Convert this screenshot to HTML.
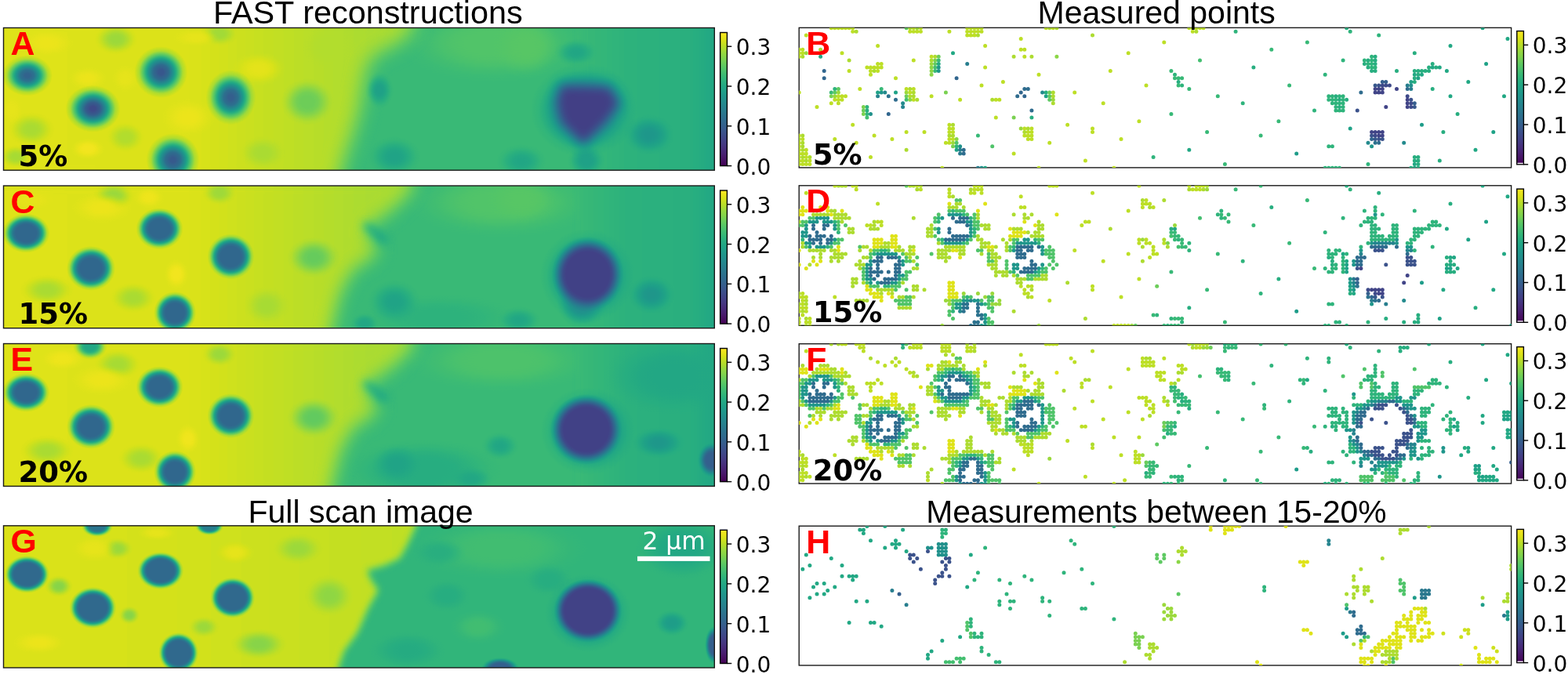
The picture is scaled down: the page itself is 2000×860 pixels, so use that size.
<!DOCTYPE html><html><head><meta charset="utf-8"><title>FAST reconstructions</title><style>html,body{margin:0;padding:0;background:#fff;width:2000px;height:860px;overflow:hidden}
svg{display:block}
.tk{font-family:"DejaVu Sans",sans-serif;font-size:28px;fill:#000}
.lt{font-family:"Liberation Sans",Arial,sans-serif;font-weight:bold;font-size:42.8px;fill:#f00}
.pc{font-family:"DejaVu Sans",sans-serif;font-weight:bold;font-size:37px;fill:#000}
.ti{font-family:"Liberation Sans",Arial,sans-serif;font-size:41px;fill:#000}
.sb{font-family:"DejaVu Sans",sans-serif;font-size:31.3px;fill:#fff}</style></head><body><svg width="2000" height="860" viewBox="0 0 2000 860"><defs><linearGradient id="cbg" x1="0" y1="0" x2="0" y2="1"><stop offset="0.000" stop-color="#fde725"/><stop offset="0.031" stop-color="#eae51a"/><stop offset="0.062" stop-color="#d8e219"/><stop offset="0.094" stop-color="#c0df25"/><stop offset="0.125" stop-color="#addc30"/><stop offset="0.156" stop-color="#95d840"/><stop offset="0.188" stop-color="#84d44b"/><stop offset="0.219" stop-color="#70cf57"/><stop offset="0.250" stop-color="#5ec962"/><stop offset="0.281" stop-color="#4ec36b"/><stop offset="0.312" stop-color="#3fbc73"/><stop offset="0.344" stop-color="#32b67a"/><stop offset="0.375" stop-color="#28ae80"/><stop offset="0.406" stop-color="#22a785"/><stop offset="0.438" stop-color="#1fa088"/><stop offset="0.469" stop-color="#1f988b"/><stop offset="0.500" stop-color="#21918c"/><stop offset="0.531" stop-color="#23898e"/><stop offset="0.562" stop-color="#26828e"/><stop offset="0.594" stop-color="#297a8e"/><stop offset="0.625" stop-color="#2c728e"/><stop offset="0.656" stop-color="#2f6b8e"/><stop offset="0.688" stop-color="#33638d"/><stop offset="0.719" stop-color="#375b8d"/><stop offset="0.750" stop-color="#3b528b"/><stop offset="0.781" stop-color="#3e4989"/><stop offset="0.812" stop-color="#424086"/><stop offset="0.844" stop-color="#453781"/><stop offset="0.875" stop-color="#472d7b"/><stop offset="0.906" stop-color="#482374"/><stop offset="0.938" stop-color="#48186a"/><stop offset="0.969" stop-color="#470d60"/><stop offset="1.000" stop-color="#440154"/></linearGradient><filter id="vir" x="0" y="0" width="1" height="1" color-interpolation-filters="sRGB"><feComponentTransfer><feFuncR type="table" tableValues="0.2670 0.2770 0.2823 0.2829 0.2788 0.2706 0.2590 0.2450 0.2297 0.2143 0.1994 0.1856 0.1727 0.1607 0.1490 0.1378 0.1276 0.1206 0.1206 0.1323 0.1579 0.1966 0.2461 0.3041 0.3692 0.4401 0.5160 0.5958 0.6785 0.7624 0.8456 0.9261 0.9932"/><feFuncG type="table" tableValues="0.0049 0.0503 0.0950 0.1359 0.1755 0.2141 0.2515 0.2877 0.3224 0.3556 0.3876 0.4186 0.4488 0.4785 0.5081 0.5375 0.5669 0.5964 0.6258 0.6550 0.6838 0.7118 0.7389 0.7647 0.7889 0.8111 0.8312 0.8487 0.8637 0.8764 0.8873 0.8973 0.9062"/><feFuncB type="table" tableValues="0.3294 0.3757 0.4173 0.4534 0.4834 0.5071 0.5247 0.5373 0.5457 0.5512 0.5546 0.5568 0.5579 0.5581 0.5573 0.5549 0.5506 0.5436 0.5335 0.5197 0.5017 0.4792 0.4520 0.4199 0.3829 0.3410 0.2943 0.2433 0.1895 0.1371 0.0997 0.1041 0.1439"/></feComponentTransfer></filter><clipPath id="cpA"><rect x="4.50" y="35.50" width="906.80" height="181.70"/></clipPath><radialGradient id="g1"><stop offset="0.300" stop-color="#b9b9b9" stop-opacity="1.000"/><stop offset="0.440" stop-color="#b9b9b9" stop-opacity="0.896"/><stop offset="0.580" stop-color="#b9b9b9" stop-opacity="0.648"/><stop offset="0.720" stop-color="#b9b9b9" stop-opacity="0.352"/><stop offset="0.860" stop-color="#b9b9b9" stop-opacity="0.104"/><stop offset="1.000" stop-color="#b9b9b9" stop-opacity="0.000"/></radialGradient><linearGradient id="lg2" gradientUnits="userSpaceOnUse" x1="740.0" y1="0" x2="915.0" y2="0"><stop offset="0.0000" stop-color="#acacac"/><stop offset="0.3429" stop-color="#a4a4a4"/><stop offset="0.8000" stop-color="#a1a1a1"/><stop offset="1.0000" stop-color="#969696"/></linearGradient><linearGradient id="lg3" gradientUnits="userSpaceOnUse" x1="0.0" y1="0" x2="470.0" y2="0"><stop offset="0.0000" stop-color="#f2f2f2"/><stop offset="0.5106" stop-color="#f1f1f1"/><stop offset="0.7021" stop-color="#e9e9e9"/><stop offset="1.0000" stop-color="#dedede"/></linearGradient><radialGradient id="g4"><stop offset="0.200" stop-color="#bcbcbc" stop-opacity="1.000"/><stop offset="0.360" stop-color="#bcbcbc" stop-opacity="0.896"/><stop offset="0.520" stop-color="#bcbcbc" stop-opacity="0.648"/><stop offset="0.680" stop-color="#bcbcbc" stop-opacity="0.352"/><stop offset="0.840" stop-color="#bcbcbc" stop-opacity="0.104"/><stop offset="1.000" stop-color="#bcbcbc" stop-opacity="0.000"/></radialGradient><radialGradient id="g5"><stop offset="0.250" stop-color="#c6c6c6" stop-opacity="1.000"/><stop offset="0.400" stop-color="#c6c6c6" stop-opacity="0.896"/><stop offset="0.550" stop-color="#c6c6c6" stop-opacity="0.648"/><stop offset="0.700" stop-color="#c6c6c6" stop-opacity="0.352"/><stop offset="0.850" stop-color="#c6c6c6" stop-opacity="0.104"/><stop offset="1.000" stop-color="#c6c6c6" stop-opacity="0.000"/></radialGradient><radialGradient id="g6"><stop offset="0.200" stop-color="#d9d9d9" stop-opacity="1.000"/><stop offset="0.360" stop-color="#d9d9d9" stop-opacity="0.896"/><stop offset="0.520" stop-color="#d9d9d9" stop-opacity="0.648"/><stop offset="0.680" stop-color="#d9d9d9" stop-opacity="0.352"/><stop offset="0.840" stop-color="#d9d9d9" stop-opacity="0.104"/><stop offset="1.000" stop-color="#d9d9d9" stop-opacity="0.000"/></radialGradient><radialGradient id="g7"><stop offset="0.200" stop-color="#dbdbdb" stop-opacity="1.000"/><stop offset="0.360" stop-color="#dbdbdb" stop-opacity="0.896"/><stop offset="0.520" stop-color="#dbdbdb" stop-opacity="0.648"/><stop offset="0.680" stop-color="#dbdbdb" stop-opacity="0.352"/><stop offset="0.840" stop-color="#dbdbdb" stop-opacity="0.104"/><stop offset="1.000" stop-color="#dbdbdb" stop-opacity="0.000"/></radialGradient><radialGradient id="g8"><stop offset="0.200" stop-color="#dedede" stop-opacity="1.000"/><stop offset="0.360" stop-color="#dedede" stop-opacity="0.896"/><stop offset="0.520" stop-color="#dedede" stop-opacity="0.648"/><stop offset="0.680" stop-color="#dedede" stop-opacity="0.352"/><stop offset="0.840" stop-color="#dedede" stop-opacity="0.104"/><stop offset="1.000" stop-color="#dedede" stop-opacity="0.000"/></radialGradient><radialGradient id="g9"><stop offset="0.200" stop-color="#dedede" stop-opacity="1.000"/><stop offset="0.360" stop-color="#dedede" stop-opacity="0.896"/><stop offset="0.520" stop-color="#dedede" stop-opacity="0.648"/><stop offset="0.680" stop-color="#dedede" stop-opacity="0.352"/><stop offset="0.840" stop-color="#dedede" stop-opacity="0.104"/><stop offset="1.000" stop-color="#dedede" stop-opacity="0.000"/></radialGradient><radialGradient id="g10"><stop offset="0.200" stop-color="#e1e1e1" stop-opacity="1.000"/><stop offset="0.360" stop-color="#e1e1e1" stop-opacity="0.896"/><stop offset="0.520" stop-color="#e1e1e1" stop-opacity="0.648"/><stop offset="0.680" stop-color="#e1e1e1" stop-opacity="0.352"/><stop offset="0.840" stop-color="#e1e1e1" stop-opacity="0.104"/><stop offset="1.000" stop-color="#e1e1e1" stop-opacity="0.000"/></radialGradient><radialGradient id="g11"><stop offset="0.200" stop-color="#e1e1e1" stop-opacity="1.000"/><stop offset="0.360" stop-color="#e1e1e1" stop-opacity="0.896"/><stop offset="0.520" stop-color="#e1e1e1" stop-opacity="0.648"/><stop offset="0.680" stop-color="#e1e1e1" stop-opacity="0.352"/><stop offset="0.840" stop-color="#e1e1e1" stop-opacity="0.104"/><stop offset="1.000" stop-color="#e1e1e1" stop-opacity="0.000"/></radialGradient><radialGradient id="g12"><stop offset="0.200" stop-color="#dddddd" stop-opacity="1.000"/><stop offset="0.360" stop-color="#dddddd" stop-opacity="0.896"/><stop offset="0.520" stop-color="#dddddd" stop-opacity="0.648"/><stop offset="0.680" stop-color="#dddddd" stop-opacity="0.352"/><stop offset="0.840" stop-color="#dddddd" stop-opacity="0.104"/><stop offset="1.000" stop-color="#dddddd" stop-opacity="0.000"/></radialGradient><radialGradient id="g13"><stop offset="0.200" stop-color="#f7f7f7" stop-opacity="1.000"/><stop offset="0.360" stop-color="#f7f7f7" stop-opacity="0.896"/><stop offset="0.520" stop-color="#f7f7f7" stop-opacity="0.648"/><stop offset="0.680" stop-color="#f7f7f7" stop-opacity="0.352"/><stop offset="0.840" stop-color="#f7f7f7" stop-opacity="0.104"/><stop offset="1.000" stop-color="#f7f7f7" stop-opacity="0.000"/></radialGradient><radialGradient id="g14"><stop offset="0.200" stop-color="#f7f7f7" stop-opacity="1.000"/><stop offset="0.360" stop-color="#f7f7f7" stop-opacity="0.896"/><stop offset="0.520" stop-color="#f7f7f7" stop-opacity="0.648"/><stop offset="0.680" stop-color="#f7f7f7" stop-opacity="0.352"/><stop offset="0.840" stop-color="#f7f7f7" stop-opacity="0.104"/><stop offset="1.000" stop-color="#f7f7f7" stop-opacity="0.000"/></radialGradient><radialGradient id="g15"><stop offset="0.200" stop-color="#f5f5f5" stop-opacity="1.000"/><stop offset="0.360" stop-color="#f5f5f5" stop-opacity="0.896"/><stop offset="0.520" stop-color="#f5f5f5" stop-opacity="0.648"/><stop offset="0.680" stop-color="#f5f5f5" stop-opacity="0.352"/><stop offset="0.840" stop-color="#f5f5f5" stop-opacity="0.104"/><stop offset="1.000" stop-color="#f5f5f5" stop-opacity="0.000"/></radialGradient><radialGradient id="g16"><stop offset="0.200" stop-color="#f7f7f7" stop-opacity="1.000"/><stop offset="0.360" stop-color="#f7f7f7" stop-opacity="0.896"/><stop offset="0.520" stop-color="#f7f7f7" stop-opacity="0.648"/><stop offset="0.680" stop-color="#f7f7f7" stop-opacity="0.352"/><stop offset="0.840" stop-color="#f7f7f7" stop-opacity="0.104"/><stop offset="1.000" stop-color="#f7f7f7" stop-opacity="0.000"/></radialGradient><radialGradient id="g17"><stop offset="0.200" stop-color="#f4f4f4" stop-opacity="1.000"/><stop offset="0.360" stop-color="#f4f4f4" stop-opacity="0.896"/><stop offset="0.520" stop-color="#f4f4f4" stop-opacity="0.648"/><stop offset="0.680" stop-color="#f4f4f4" stop-opacity="0.352"/><stop offset="0.840" stop-color="#f4f4f4" stop-opacity="0.104"/><stop offset="1.000" stop-color="#f4f4f4" stop-opacity="0.000"/></radialGradient><radialGradient id="g18"><stop offset="0.200" stop-color="#fafafa" stop-opacity="1.000"/><stop offset="0.360" stop-color="#fafafa" stop-opacity="0.896"/><stop offset="0.520" stop-color="#fafafa" stop-opacity="0.648"/><stop offset="0.680" stop-color="#fafafa" stop-opacity="0.352"/><stop offset="0.840" stop-color="#fafafa" stop-opacity="0.104"/><stop offset="1.000" stop-color="#fafafa" stop-opacity="0.000"/></radialGradient><radialGradient id="g19"><stop offset="0.200" stop-color="#f5f5f5" stop-opacity="1.000"/><stop offset="0.360" stop-color="#f5f5f5" stop-opacity="0.896"/><stop offset="0.520" stop-color="#f5f5f5" stop-opacity="0.648"/><stop offset="0.680" stop-color="#f5f5f5" stop-opacity="0.352"/><stop offset="0.840" stop-color="#f5f5f5" stop-opacity="0.104"/><stop offset="1.000" stop-color="#f5f5f5" stop-opacity="0.000"/></radialGradient><radialGradient id="g20"><stop offset="0.200" stop-color="#f5f5f5" stop-opacity="1.000"/><stop offset="0.360" stop-color="#f5f5f5" stop-opacity="0.896"/><stop offset="0.520" stop-color="#f5f5f5" stop-opacity="0.648"/><stop offset="0.680" stop-color="#f5f5f5" stop-opacity="0.352"/><stop offset="0.840" stop-color="#f5f5f5" stop-opacity="0.104"/><stop offset="1.000" stop-color="#f5f5f5" stop-opacity="0.000"/></radialGradient><radialGradient id="g21"><stop offset="0.150" stop-color="#878787" stop-opacity="1.000"/><stop offset="0.320" stop-color="#878787" stop-opacity="0.896"/><stop offset="0.490" stop-color="#878787" stop-opacity="0.648"/><stop offset="0.660" stop-color="#878787" stop-opacity="0.352"/><stop offset="0.830" stop-color="#878787" stop-opacity="0.104"/><stop offset="1.000" stop-color="#878787" stop-opacity="0.000"/></radialGradient><radialGradient id="g22"><stop offset="0.150" stop-color="#919191" stop-opacity="1.000"/><stop offset="0.320" stop-color="#919191" stop-opacity="0.896"/><stop offset="0.490" stop-color="#919191" stop-opacity="0.648"/><stop offset="0.660" stop-color="#919191" stop-opacity="0.352"/><stop offset="0.830" stop-color="#919191" stop-opacity="0.104"/><stop offset="1.000" stop-color="#919191" stop-opacity="0.000"/></radialGradient><radialGradient id="g23"><stop offset="0.150" stop-color="#979797" stop-opacity="1.000"/><stop offset="0.320" stop-color="#979797" stop-opacity="0.896"/><stop offset="0.490" stop-color="#979797" stop-opacity="0.648"/><stop offset="0.660" stop-color="#979797" stop-opacity="0.352"/><stop offset="0.830" stop-color="#979797" stop-opacity="0.104"/><stop offset="1.000" stop-color="#979797" stop-opacity="0.000"/></radialGradient><radialGradient id="g24"><stop offset="0.150" stop-color="#949494" stop-opacity="1.000"/><stop offset="0.320" stop-color="#949494" stop-opacity="0.896"/><stop offset="0.490" stop-color="#949494" stop-opacity="0.648"/><stop offset="0.660" stop-color="#949494" stop-opacity="0.352"/><stop offset="0.830" stop-color="#949494" stop-opacity="0.104"/><stop offset="1.000" stop-color="#949494" stop-opacity="0.000"/></radialGradient><radialGradient id="g25"><stop offset="0.150" stop-color="#979797" stop-opacity="1.000"/><stop offset="0.320" stop-color="#979797" stop-opacity="0.896"/><stop offset="0.490" stop-color="#979797" stop-opacity="0.648"/><stop offset="0.660" stop-color="#979797" stop-opacity="0.352"/><stop offset="0.830" stop-color="#979797" stop-opacity="0.104"/><stop offset="1.000" stop-color="#979797" stop-opacity="0.000"/></radialGradient><radialGradient id="g26"><stop offset="0.200" stop-color="#919191" stop-opacity="1.000"/><stop offset="0.360" stop-color="#919191" stop-opacity="0.896"/><stop offset="0.520" stop-color="#919191" stop-opacity="0.648"/><stop offset="0.680" stop-color="#919191" stop-opacity="0.352"/><stop offset="0.840" stop-color="#919191" stop-opacity="0.104"/><stop offset="1.000" stop-color="#919191" stop-opacity="0.000"/></radialGradient><radialGradient id="g27"><stop offset="0.100" stop-color="#505050" stop-opacity="1.000"/><stop offset="0.280" stop-color="#505050" stop-opacity="0.896"/><stop offset="0.460" stop-color="#505050" stop-opacity="0.648"/><stop offset="0.640" stop-color="#505050" stop-opacity="0.352"/><stop offset="0.820" stop-color="#505050" stop-opacity="0.104"/><stop offset="1.000" stop-color="#505050" stop-opacity="0.000"/></radialGradient><radialGradient id="g28"><stop offset="0.100" stop-color="#393939" stop-opacity="1.000"/><stop offset="0.280" stop-color="#393939" stop-opacity="0.896"/><stop offset="0.460" stop-color="#393939" stop-opacity="0.648"/><stop offset="0.640" stop-color="#393939" stop-opacity="0.352"/><stop offset="0.820" stop-color="#393939" stop-opacity="0.104"/><stop offset="1.000" stop-color="#393939" stop-opacity="0.000"/></radialGradient><radialGradient id="g29"><stop offset="0.100" stop-color="#454545" stop-opacity="1.000"/><stop offset="0.280" stop-color="#454545" stop-opacity="0.896"/><stop offset="0.460" stop-color="#454545" stop-opacity="0.648"/><stop offset="0.640" stop-color="#454545" stop-opacity="0.352"/><stop offset="0.820" stop-color="#454545" stop-opacity="0.104"/><stop offset="1.000" stop-color="#454545" stop-opacity="0.000"/></radialGradient><radialGradient id="g30"><stop offset="0.100" stop-color="#4c4c4c" stop-opacity="1.000"/><stop offset="0.280" stop-color="#4c4c4c" stop-opacity="0.896"/><stop offset="0.460" stop-color="#4c4c4c" stop-opacity="0.648"/><stop offset="0.640" stop-color="#4c4c4c" stop-opacity="0.352"/><stop offset="0.820" stop-color="#4c4c4c" stop-opacity="0.104"/><stop offset="1.000" stop-color="#4c4c4c" stop-opacity="0.000"/></radialGradient><radialGradient id="g31"><stop offset="0.100" stop-color="#484848" stop-opacity="1.000"/><stop offset="0.280" stop-color="#484848" stop-opacity="0.896"/><stop offset="0.460" stop-color="#484848" stop-opacity="0.648"/><stop offset="0.640" stop-color="#484848" stop-opacity="0.352"/><stop offset="0.820" stop-color="#484848" stop-opacity="0.104"/><stop offset="1.000" stop-color="#484848" stop-opacity="0.000"/></radialGradient><radialGradient id="g32"><stop offset="0.250" stop-color="#7a7a7a" stop-opacity="1.000"/><stop offset="0.400" stop-color="#7a7a7a" stop-opacity="0.896"/><stop offset="0.550" stop-color="#7a7a7a" stop-opacity="0.648"/><stop offset="0.700" stop-color="#7a7a7a" stop-opacity="0.352"/><stop offset="0.850" stop-color="#7a7a7a" stop-opacity="0.104"/><stop offset="1.000" stop-color="#7a7a7a" stop-opacity="0.000"/></radialGradient><clipPath id="cpC"><rect x="4.50" y="237.00" width="906.80" height="181.70"/></clipPath><radialGradient id="g33"><stop offset="0.300" stop-color="#b9b9b9" stop-opacity="1.000"/><stop offset="0.440" stop-color="#b9b9b9" stop-opacity="0.896"/><stop offset="0.580" stop-color="#b9b9b9" stop-opacity="0.648"/><stop offset="0.720" stop-color="#b9b9b9" stop-opacity="0.352"/><stop offset="0.860" stop-color="#b9b9b9" stop-opacity="0.104"/><stop offset="1.000" stop-color="#b9b9b9" stop-opacity="0.000"/></radialGradient><radialGradient id="g34"><stop offset="0.300" stop-color="#a4a4a4" stop-opacity="1.000"/><stop offset="0.440" stop-color="#a4a4a4" stop-opacity="0.896"/><stop offset="0.580" stop-color="#a4a4a4" stop-opacity="0.648"/><stop offset="0.720" stop-color="#a4a4a4" stop-opacity="0.352"/><stop offset="0.860" stop-color="#a4a4a4" stop-opacity="0.104"/><stop offset="1.000" stop-color="#a4a4a4" stop-opacity="0.000"/></radialGradient><linearGradient id="lg35" gradientUnits="userSpaceOnUse" x1="740.0" y1="0" x2="915.0" y2="0"><stop offset="0.0000" stop-color="#acacac"/><stop offset="0.3429" stop-color="#a3a3a3"/><stop offset="0.8000" stop-color="#a1a1a1"/><stop offset="1.0000" stop-color="#969696"/></linearGradient><linearGradient id="lg36" gradientUnits="userSpaceOnUse" x1="0.0" y1="0" x2="470.0" y2="0"><stop offset="0.0000" stop-color="#f2f2f2"/><stop offset="0.5106" stop-color="#f1f1f1"/><stop offset="0.7021" stop-color="#e9e9e9"/><stop offset="1.0000" stop-color="#dedede"/></linearGradient><radialGradient id="g37"><stop offset="0.200" stop-color="#bcbcbc" stop-opacity="1.000"/><stop offset="0.360" stop-color="#bcbcbc" stop-opacity="0.896"/><stop offset="0.520" stop-color="#bcbcbc" stop-opacity="0.648"/><stop offset="0.680" stop-color="#bcbcbc" stop-opacity="0.352"/><stop offset="0.840" stop-color="#bcbcbc" stop-opacity="0.104"/><stop offset="1.000" stop-color="#bcbcbc" stop-opacity="0.000"/></radialGradient><radialGradient id="g38"><stop offset="0.200" stop-color="#c3c3c3" stop-opacity="1.000"/><stop offset="0.360" stop-color="#c3c3c3" stop-opacity="0.896"/><stop offset="0.520" stop-color="#c3c3c3" stop-opacity="0.648"/><stop offset="0.680" stop-color="#c3c3c3" stop-opacity="0.352"/><stop offset="0.840" stop-color="#c3c3c3" stop-opacity="0.104"/><stop offset="1.000" stop-color="#c3c3c3" stop-opacity="0.000"/></radialGradient><radialGradient id="g39"><stop offset="0.200" stop-color="#d8d8d8" stop-opacity="1.000"/><stop offset="0.360" stop-color="#d8d8d8" stop-opacity="0.896"/><stop offset="0.520" stop-color="#d8d8d8" stop-opacity="0.648"/><stop offset="0.680" stop-color="#d8d8d8" stop-opacity="0.352"/><stop offset="0.840" stop-color="#d8d8d8" stop-opacity="0.104"/><stop offset="1.000" stop-color="#d8d8d8" stop-opacity="0.000"/></radialGradient><radialGradient id="g40"><stop offset="0.200" stop-color="#dadada" stop-opacity="1.000"/><stop offset="0.360" stop-color="#dadada" stop-opacity="0.896"/><stop offset="0.520" stop-color="#dadada" stop-opacity="0.648"/><stop offset="0.680" stop-color="#dadada" stop-opacity="0.352"/><stop offset="0.840" stop-color="#dadada" stop-opacity="0.104"/><stop offset="1.000" stop-color="#dadada" stop-opacity="0.000"/></radialGradient><radialGradient id="g41"><stop offset="0.200" stop-color="#dedede" stop-opacity="1.000"/><stop offset="0.360" stop-color="#dedede" stop-opacity="0.896"/><stop offset="0.520" stop-color="#dedede" stop-opacity="0.648"/><stop offset="0.680" stop-color="#dedede" stop-opacity="0.352"/><stop offset="0.840" stop-color="#dedede" stop-opacity="0.104"/><stop offset="1.000" stop-color="#dedede" stop-opacity="0.000"/></radialGradient><radialGradient id="g42"><stop offset="0.200" stop-color="#dedede" stop-opacity="1.000"/><stop offset="0.360" stop-color="#dedede" stop-opacity="0.896"/><stop offset="0.520" stop-color="#dedede" stop-opacity="0.648"/><stop offset="0.680" stop-color="#dedede" stop-opacity="0.352"/><stop offset="0.840" stop-color="#dedede" stop-opacity="0.104"/><stop offset="1.000" stop-color="#dedede" stop-opacity="0.000"/></radialGradient><radialGradient id="g43"><stop offset="0.200" stop-color="#dddddd" stop-opacity="1.000"/><stop offset="0.360" stop-color="#dddddd" stop-opacity="0.896"/><stop offset="0.520" stop-color="#dddddd" stop-opacity="0.648"/><stop offset="0.680" stop-color="#dddddd" stop-opacity="0.352"/><stop offset="0.840" stop-color="#dddddd" stop-opacity="0.104"/><stop offset="1.000" stop-color="#dddddd" stop-opacity="0.000"/></radialGradient><radialGradient id="g44"><stop offset="0.200" stop-color="#fafafa" stop-opacity="1.000"/><stop offset="0.360" stop-color="#fafafa" stop-opacity="0.896"/><stop offset="0.520" stop-color="#fafafa" stop-opacity="0.648"/><stop offset="0.680" stop-color="#fafafa" stop-opacity="0.352"/><stop offset="0.840" stop-color="#fafafa" stop-opacity="0.104"/><stop offset="1.000" stop-color="#fafafa" stop-opacity="0.000"/></radialGradient><radialGradient id="g45"><stop offset="0.200" stop-color="#f7f7f7" stop-opacity="1.000"/><stop offset="0.360" stop-color="#f7f7f7" stop-opacity="0.896"/><stop offset="0.520" stop-color="#f7f7f7" stop-opacity="0.648"/><stop offset="0.680" stop-color="#f7f7f7" stop-opacity="0.352"/><stop offset="0.840" stop-color="#f7f7f7" stop-opacity="0.104"/><stop offset="1.000" stop-color="#f7f7f7" stop-opacity="0.000"/></radialGradient><radialGradient id="g46"><stop offset="0.200" stop-color="#f8f8f8" stop-opacity="1.000"/><stop offset="0.360" stop-color="#f8f8f8" stop-opacity="0.896"/><stop offset="0.520" stop-color="#f8f8f8" stop-opacity="0.648"/><stop offset="0.680" stop-color="#f8f8f8" stop-opacity="0.352"/><stop offset="0.840" stop-color="#f8f8f8" stop-opacity="0.104"/><stop offset="1.000" stop-color="#f8f8f8" stop-opacity="0.000"/></radialGradient><radialGradient id="g47"><stop offset="0.200" stop-color="#f5f5f5" stop-opacity="1.000"/><stop offset="0.360" stop-color="#f5f5f5" stop-opacity="0.896"/><stop offset="0.520" stop-color="#f5f5f5" stop-opacity="0.648"/><stop offset="0.680" stop-color="#f5f5f5" stop-opacity="0.352"/><stop offset="0.840" stop-color="#f5f5f5" stop-opacity="0.104"/><stop offset="1.000" stop-color="#f5f5f5" stop-opacity="0.000"/></radialGradient><radialGradient id="g48"><stop offset="0.150" stop-color="#868686" stop-opacity="1.000"/><stop offset="0.320" stop-color="#868686" stop-opacity="0.896"/><stop offset="0.490" stop-color="#868686" stop-opacity="0.648"/><stop offset="0.660" stop-color="#868686" stop-opacity="0.352"/><stop offset="0.830" stop-color="#868686" stop-opacity="0.104"/><stop offset="1.000" stop-color="#868686" stop-opacity="0.000"/></radialGradient><radialGradient id="g49"><stop offset="0.150" stop-color="#949494" stop-opacity="1.000"/><stop offset="0.320" stop-color="#949494" stop-opacity="0.896"/><stop offset="0.490" stop-color="#949494" stop-opacity="0.648"/><stop offset="0.660" stop-color="#949494" stop-opacity="0.352"/><stop offset="0.830" stop-color="#949494" stop-opacity="0.104"/><stop offset="1.000" stop-color="#949494" stop-opacity="0.000"/></radialGradient><radialGradient id="g50"><stop offset="0.200" stop-color="#989898" stop-opacity="1.000"/><stop offset="0.360" stop-color="#989898" stop-opacity="0.896"/><stop offset="0.520" stop-color="#989898" stop-opacity="0.648"/><stop offset="0.680" stop-color="#989898" stop-opacity="0.352"/><stop offset="0.840" stop-color="#989898" stop-opacity="0.104"/><stop offset="1.000" stop-color="#989898" stop-opacity="0.000"/></radialGradient><radialGradient id="g51"><stop offset="0.150" stop-color="#979797" stop-opacity="1.000"/><stop offset="0.320" stop-color="#979797" stop-opacity="0.896"/><stop offset="0.490" stop-color="#979797" stop-opacity="0.648"/><stop offset="0.660" stop-color="#979797" stop-opacity="0.352"/><stop offset="0.830" stop-color="#979797" stop-opacity="0.104"/><stop offset="1.000" stop-color="#979797" stop-opacity="0.000"/></radialGradient><radialGradient id="g52"><stop offset="0.200" stop-color="#7a7a7a" stop-opacity="1.000"/><stop offset="0.360" stop-color="#7a7a7a" stop-opacity="0.896"/><stop offset="0.520" stop-color="#7a7a7a" stop-opacity="0.648"/><stop offset="0.680" stop-color="#7a7a7a" stop-opacity="0.352"/><stop offset="0.840" stop-color="#7a7a7a" stop-opacity="0.104"/><stop offset="1.000" stop-color="#7a7a7a" stop-opacity="0.000"/></radialGradient><radialGradient id="g53"><stop offset="0.450" stop-color="#545454" stop-opacity="1.000"/><stop offset="0.560" stop-color="#545454" stop-opacity="0.896"/><stop offset="0.670" stop-color="#545454" stop-opacity="0.648"/><stop offset="0.780" stop-color="#545454" stop-opacity="0.352"/><stop offset="0.890" stop-color="#545454" stop-opacity="0.104"/><stop offset="1.000" stop-color="#545454" stop-opacity="0.000"/></radialGradient><radialGradient id="g54"><stop offset="0.450" stop-color="#545454" stop-opacity="1.000"/><stop offset="0.560" stop-color="#545454" stop-opacity="0.896"/><stop offset="0.670" stop-color="#545454" stop-opacity="0.648"/><stop offset="0.780" stop-color="#545454" stop-opacity="0.352"/><stop offset="0.890" stop-color="#545454" stop-opacity="0.104"/><stop offset="1.000" stop-color="#545454" stop-opacity="0.000"/></radialGradient><radialGradient id="g55"><stop offset="0.450" stop-color="#545454" stop-opacity="1.000"/><stop offset="0.560" stop-color="#545454" stop-opacity="0.896"/><stop offset="0.670" stop-color="#545454" stop-opacity="0.648"/><stop offset="0.780" stop-color="#545454" stop-opacity="0.352"/><stop offset="0.890" stop-color="#545454" stop-opacity="0.104"/><stop offset="1.000" stop-color="#545454" stop-opacity="0.000"/></radialGradient><radialGradient id="g56"><stop offset="0.450" stop-color="#545454" stop-opacity="1.000"/><stop offset="0.560" stop-color="#545454" stop-opacity="0.896"/><stop offset="0.670" stop-color="#545454" stop-opacity="0.648"/><stop offset="0.780" stop-color="#545454" stop-opacity="0.352"/><stop offset="0.890" stop-color="#545454" stop-opacity="0.104"/><stop offset="1.000" stop-color="#545454" stop-opacity="0.000"/></radialGradient><radialGradient id="g57"><stop offset="0.450" stop-color="#545454" stop-opacity="1.000"/><stop offset="0.560" stop-color="#545454" stop-opacity="0.896"/><stop offset="0.670" stop-color="#545454" stop-opacity="0.648"/><stop offset="0.780" stop-color="#545454" stop-opacity="0.352"/><stop offset="0.890" stop-color="#545454" stop-opacity="0.104"/><stop offset="1.000" stop-color="#545454" stop-opacity="0.000"/></radialGradient><radialGradient id="g58"><stop offset="0.300" stop-color="#7e7e7e" stop-opacity="1.000"/><stop offset="0.440" stop-color="#7e7e7e" stop-opacity="0.896"/><stop offset="0.580" stop-color="#7e7e7e" stop-opacity="0.648"/><stop offset="0.720" stop-color="#7e7e7e" stop-opacity="0.352"/><stop offset="0.860" stop-color="#7e7e7e" stop-opacity="0.104"/><stop offset="1.000" stop-color="#7e7e7e" stop-opacity="0.000"/></radialGradient><radialGradient id="g59"><stop offset="0.600" stop-color="#313131" stop-opacity="1.000"/><stop offset="0.680" stop-color="#313131" stop-opacity="0.896"/><stop offset="0.760" stop-color="#313131" stop-opacity="0.648"/><stop offset="0.840" stop-color="#313131" stop-opacity="0.352"/><stop offset="0.920" stop-color="#313131" stop-opacity="0.104"/><stop offset="1.000" stop-color="#313131" stop-opacity="0.000"/></radialGradient><clipPath id="cpE"><rect x="4.50" y="438.50" width="906.80" height="181.90"/></clipPath><radialGradient id="g60"><stop offset="0.300" stop-color="#b7b7b7" stop-opacity="1.000"/><stop offset="0.440" stop-color="#b7b7b7" stop-opacity="0.896"/><stop offset="0.580" stop-color="#b7b7b7" stop-opacity="0.648"/><stop offset="0.720" stop-color="#b7b7b7" stop-opacity="0.352"/><stop offset="0.860" stop-color="#b7b7b7" stop-opacity="0.104"/><stop offset="1.000" stop-color="#b7b7b7" stop-opacity="0.000"/></radialGradient><radialGradient id="g61"><stop offset="0.300" stop-color="#9e9e9e" stop-opacity="1.000"/><stop offset="0.440" stop-color="#9e9e9e" stop-opacity="0.896"/><stop offset="0.580" stop-color="#9e9e9e" stop-opacity="0.648"/><stop offset="0.720" stop-color="#9e9e9e" stop-opacity="0.352"/><stop offset="0.860" stop-color="#9e9e9e" stop-opacity="0.104"/><stop offset="1.000" stop-color="#9e9e9e" stop-opacity="0.000"/></radialGradient><linearGradient id="lg62" gradientUnits="userSpaceOnUse" x1="740.0" y1="0" x2="915.0" y2="0"><stop offset="0.0000" stop-color="#acacac"/><stop offset="0.3429" stop-color="#a3a3a3"/><stop offset="0.8000" stop-color="#a0a0a0"/><stop offset="1.0000" stop-color="#969696"/></linearGradient><radialGradient id="g63"><stop offset="0.300" stop-color="#989898" stop-opacity="1.000"/><stop offset="0.440" stop-color="#989898" stop-opacity="0.896"/><stop offset="0.580" stop-color="#989898" stop-opacity="0.648"/><stop offset="0.720" stop-color="#989898" stop-opacity="0.352"/><stop offset="0.860" stop-color="#989898" stop-opacity="0.104"/><stop offset="1.000" stop-color="#989898" stop-opacity="0.000"/></radialGradient><linearGradient id="lg64" gradientUnits="userSpaceOnUse" x1="0.0" y1="0" x2="470.0" y2="0"><stop offset="0.0000" stop-color="#f2f2f2"/><stop offset="0.5106" stop-color="#f1f1f1"/><stop offset="0.7021" stop-color="#e9e9e9"/><stop offset="1.0000" stop-color="#dedede"/></linearGradient><radialGradient id="g65"><stop offset="0.200" stop-color="#c1c1c1" stop-opacity="1.000"/><stop offset="0.360" stop-color="#c1c1c1" stop-opacity="0.896"/><stop offset="0.520" stop-color="#c1c1c1" stop-opacity="0.648"/><stop offset="0.680" stop-color="#c1c1c1" stop-opacity="0.352"/><stop offset="0.840" stop-color="#c1c1c1" stop-opacity="0.104"/><stop offset="1.000" stop-color="#c1c1c1" stop-opacity="0.000"/></radialGradient><radialGradient id="g66"><stop offset="0.300" stop-color="#989898" stop-opacity="1.000"/><stop offset="0.440" stop-color="#989898" stop-opacity="0.896"/><stop offset="0.580" stop-color="#989898" stop-opacity="0.648"/><stop offset="0.720" stop-color="#989898" stop-opacity="0.352"/><stop offset="0.860" stop-color="#989898" stop-opacity="0.104"/><stop offset="1.000" stop-color="#989898" stop-opacity="0.000"/></radialGradient><radialGradient id="g67"><stop offset="0.200" stop-color="#dddddd" stop-opacity="1.000"/><stop offset="0.360" stop-color="#dddddd" stop-opacity="0.896"/><stop offset="0.520" stop-color="#dddddd" stop-opacity="0.648"/><stop offset="0.680" stop-color="#dddddd" stop-opacity="0.352"/><stop offset="0.840" stop-color="#dddddd" stop-opacity="0.104"/><stop offset="1.000" stop-color="#dddddd" stop-opacity="0.000"/></radialGradient><radialGradient id="g68"><stop offset="0.200" stop-color="#d9d9d9" stop-opacity="1.000"/><stop offset="0.360" stop-color="#d9d9d9" stop-opacity="0.896"/><stop offset="0.520" stop-color="#d9d9d9" stop-opacity="0.648"/><stop offset="0.680" stop-color="#d9d9d9" stop-opacity="0.352"/><stop offset="0.840" stop-color="#d9d9d9" stop-opacity="0.104"/><stop offset="1.000" stop-color="#d9d9d9" stop-opacity="0.000"/></radialGradient><radialGradient id="g69"><stop offset="0.200" stop-color="#dedede" stop-opacity="1.000"/><stop offset="0.360" stop-color="#dedede" stop-opacity="0.896"/><stop offset="0.520" stop-color="#dedede" stop-opacity="0.648"/><stop offset="0.680" stop-color="#dedede" stop-opacity="0.352"/><stop offset="0.840" stop-color="#dedede" stop-opacity="0.104"/><stop offset="1.000" stop-color="#dedede" stop-opacity="0.000"/></radialGradient><radialGradient id="g70"><stop offset="0.200" stop-color="#dedede" stop-opacity="1.000"/><stop offset="0.360" stop-color="#dedede" stop-opacity="0.896"/><stop offset="0.520" stop-color="#dedede" stop-opacity="0.648"/><stop offset="0.680" stop-color="#dedede" stop-opacity="0.352"/><stop offset="0.840" stop-color="#dedede" stop-opacity="0.104"/><stop offset="1.000" stop-color="#dedede" stop-opacity="0.000"/></radialGradient><radialGradient id="g71"><stop offset="0.200" stop-color="#f8f8f8" stop-opacity="1.000"/><stop offset="0.360" stop-color="#f8f8f8" stop-opacity="0.896"/><stop offset="0.520" stop-color="#f8f8f8" stop-opacity="0.648"/><stop offset="0.680" stop-color="#f8f8f8" stop-opacity="0.352"/><stop offset="0.840" stop-color="#f8f8f8" stop-opacity="0.104"/><stop offset="1.000" stop-color="#f8f8f8" stop-opacity="0.000"/></radialGradient><radialGradient id="g72"><stop offset="0.200" stop-color="#f7f7f7" stop-opacity="1.000"/><stop offset="0.360" stop-color="#f7f7f7" stop-opacity="0.896"/><stop offset="0.520" stop-color="#f7f7f7" stop-opacity="0.648"/><stop offset="0.680" stop-color="#f7f7f7" stop-opacity="0.352"/><stop offset="0.840" stop-color="#f7f7f7" stop-opacity="0.104"/><stop offset="1.000" stop-color="#f7f7f7" stop-opacity="0.000"/></radialGradient><radialGradient id="g73"><stop offset="0.200" stop-color="#f9f9f9" stop-opacity="1.000"/><stop offset="0.360" stop-color="#f9f9f9" stop-opacity="0.896"/><stop offset="0.520" stop-color="#f9f9f9" stop-opacity="0.648"/><stop offset="0.680" stop-color="#f9f9f9" stop-opacity="0.352"/><stop offset="0.840" stop-color="#f9f9f9" stop-opacity="0.104"/><stop offset="1.000" stop-color="#f9f9f9" stop-opacity="0.000"/></radialGradient><radialGradient id="g74"><stop offset="0.150" stop-color="#878787" stop-opacity="1.000"/><stop offset="0.320" stop-color="#878787" stop-opacity="0.896"/><stop offset="0.490" stop-color="#878787" stop-opacity="0.648"/><stop offset="0.660" stop-color="#878787" stop-opacity="0.352"/><stop offset="0.830" stop-color="#878787" stop-opacity="0.104"/><stop offset="1.000" stop-color="#878787" stop-opacity="0.000"/></radialGradient><radialGradient id="g75"><stop offset="0.150" stop-color="#979797" stop-opacity="1.000"/><stop offset="0.320" stop-color="#979797" stop-opacity="0.896"/><stop offset="0.490" stop-color="#979797" stop-opacity="0.648"/><stop offset="0.660" stop-color="#979797" stop-opacity="0.352"/><stop offset="0.830" stop-color="#979797" stop-opacity="0.104"/><stop offset="1.000" stop-color="#979797" stop-opacity="0.000"/></radialGradient><radialGradient id="g76"><stop offset="0.150" stop-color="#949494" stop-opacity="1.000"/><stop offset="0.320" stop-color="#949494" stop-opacity="0.896"/><stop offset="0.490" stop-color="#949494" stop-opacity="0.648"/><stop offset="0.660" stop-color="#949494" stop-opacity="0.352"/><stop offset="0.830" stop-color="#949494" stop-opacity="0.104"/><stop offset="1.000" stop-color="#949494" stop-opacity="0.000"/></radialGradient><radialGradient id="g77"><stop offset="0.150" stop-color="#989898" stop-opacity="1.000"/><stop offset="0.320" stop-color="#989898" stop-opacity="0.896"/><stop offset="0.490" stop-color="#989898" stop-opacity="0.648"/><stop offset="0.660" stop-color="#989898" stop-opacity="0.352"/><stop offset="0.830" stop-color="#989898" stop-opacity="0.104"/><stop offset="1.000" stop-color="#989898" stop-opacity="0.000"/></radialGradient><radialGradient id="g78"><stop offset="0.400" stop-color="#4c4c4c" stop-opacity="1.000"/><stop offset="0.520" stop-color="#4c4c4c" stop-opacity="0.896"/><stop offset="0.640" stop-color="#4c4c4c" stop-opacity="0.648"/><stop offset="0.760" stop-color="#4c4c4c" stop-opacity="0.352"/><stop offset="0.880" stop-color="#4c4c4c" stop-opacity="0.104"/><stop offset="1.000" stop-color="#4c4c4c" stop-opacity="0.000"/></radialGradient><radialGradient id="g79"><stop offset="0.450" stop-color="#545454" stop-opacity="1.000"/><stop offset="0.560" stop-color="#545454" stop-opacity="0.896"/><stop offset="0.670" stop-color="#545454" stop-opacity="0.648"/><stop offset="0.780" stop-color="#545454" stop-opacity="0.352"/><stop offset="0.890" stop-color="#545454" stop-opacity="0.104"/><stop offset="1.000" stop-color="#545454" stop-opacity="0.000"/></radialGradient><radialGradient id="g80"><stop offset="0.450" stop-color="#545454" stop-opacity="1.000"/><stop offset="0.560" stop-color="#545454" stop-opacity="0.896"/><stop offset="0.670" stop-color="#545454" stop-opacity="0.648"/><stop offset="0.780" stop-color="#545454" stop-opacity="0.352"/><stop offset="0.890" stop-color="#545454" stop-opacity="0.104"/><stop offset="1.000" stop-color="#545454" stop-opacity="0.000"/></radialGradient><radialGradient id="g81"><stop offset="0.450" stop-color="#545454" stop-opacity="1.000"/><stop offset="0.560" stop-color="#545454" stop-opacity="0.896"/><stop offset="0.670" stop-color="#545454" stop-opacity="0.648"/><stop offset="0.780" stop-color="#545454" stop-opacity="0.352"/><stop offset="0.890" stop-color="#545454" stop-opacity="0.104"/><stop offset="1.000" stop-color="#545454" stop-opacity="0.000"/></radialGradient><radialGradient id="g82"><stop offset="0.450" stop-color="#545454" stop-opacity="1.000"/><stop offset="0.560" stop-color="#545454" stop-opacity="0.896"/><stop offset="0.670" stop-color="#545454" stop-opacity="0.648"/><stop offset="0.780" stop-color="#545454" stop-opacity="0.352"/><stop offset="0.890" stop-color="#545454" stop-opacity="0.104"/><stop offset="1.000" stop-color="#545454" stop-opacity="0.000"/></radialGradient><radialGradient id="g83"><stop offset="0.450" stop-color="#545454" stop-opacity="1.000"/><stop offset="0.560" stop-color="#545454" stop-opacity="0.896"/><stop offset="0.670" stop-color="#545454" stop-opacity="0.648"/><stop offset="0.780" stop-color="#545454" stop-opacity="0.352"/><stop offset="0.890" stop-color="#545454" stop-opacity="0.104"/><stop offset="1.000" stop-color="#545454" stop-opacity="0.000"/></radialGradient><radialGradient id="g84"><stop offset="0.300" stop-color="#7e7e7e" stop-opacity="1.000"/><stop offset="0.440" stop-color="#7e7e7e" stop-opacity="0.896"/><stop offset="0.580" stop-color="#7e7e7e" stop-opacity="0.648"/><stop offset="0.720" stop-color="#7e7e7e" stop-opacity="0.352"/><stop offset="0.860" stop-color="#7e7e7e" stop-opacity="0.104"/><stop offset="1.000" stop-color="#7e7e7e" stop-opacity="0.000"/></radialGradient><radialGradient id="g85"><stop offset="0.620" stop-color="#313131" stop-opacity="1.000"/><stop offset="0.696" stop-color="#313131" stop-opacity="0.896"/><stop offset="0.772" stop-color="#313131" stop-opacity="0.648"/><stop offset="0.848" stop-color="#313131" stop-opacity="0.352"/><stop offset="0.924" stop-color="#313131" stop-opacity="0.104"/><stop offset="1.000" stop-color="#313131" stop-opacity="0.000"/></radialGradient><clipPath id="cpG"><rect x="4.50" y="670.80" width="906.80" height="181.20"/></clipPath><radialGradient id="g86"><stop offset="0.300" stop-color="#b1b1b1" stop-opacity="1.000"/><stop offset="0.440" stop-color="#b1b1b1" stop-opacity="0.896"/><stop offset="0.580" stop-color="#b1b1b1" stop-opacity="0.648"/><stop offset="0.720" stop-color="#b1b1b1" stop-opacity="0.352"/><stop offset="0.860" stop-color="#b1b1b1" stop-opacity="0.104"/><stop offset="1.000" stop-color="#b1b1b1" stop-opacity="0.000"/></radialGradient><radialGradient id="g87"><stop offset="0.300" stop-color="#989898" stop-opacity="1.000"/><stop offset="0.440" stop-color="#989898" stop-opacity="0.896"/><stop offset="0.580" stop-color="#989898" stop-opacity="0.648"/><stop offset="0.720" stop-color="#989898" stop-opacity="0.352"/><stop offset="0.860" stop-color="#989898" stop-opacity="0.104"/><stop offset="1.000" stop-color="#989898" stop-opacity="0.000"/></radialGradient><linearGradient id="lg88" gradientUnits="userSpaceOnUse" x1="0.0" y1="0" x2="520.0" y2="0"><stop offset="0.0000" stop-color="#f1f1f1"/><stop offset="0.4808" stop-color="#ededed"/><stop offset="0.7692" stop-color="#e9e9e9"/><stop offset="1.0000" stop-color="#e6e6e6"/></linearGradient><radialGradient id="g89"><stop offset="0.200" stop-color="#8d8d8d" stop-opacity="1.000"/><stop offset="0.360" stop-color="#8d8d8d" stop-opacity="0.896"/><stop offset="0.520" stop-color="#8d8d8d" stop-opacity="0.648"/><stop offset="0.680" stop-color="#8d8d8d" stop-opacity="0.352"/><stop offset="0.840" stop-color="#8d8d8d" stop-opacity="0.104"/><stop offset="1.000" stop-color="#8d8d8d" stop-opacity="0.000"/></radialGradient><radialGradient id="g90"><stop offset="0.200" stop-color="#9e9e9e" stop-opacity="1.000"/><stop offset="0.360" stop-color="#9e9e9e" stop-opacity="0.896"/><stop offset="0.520" stop-color="#9e9e9e" stop-opacity="0.648"/><stop offset="0.680" stop-color="#9e9e9e" stop-opacity="0.352"/><stop offset="0.840" stop-color="#9e9e9e" stop-opacity="0.104"/><stop offset="1.000" stop-color="#9e9e9e" stop-opacity="0.000"/></radialGradient><radialGradient id="g91"><stop offset="0.200" stop-color="#9e9e9e" stop-opacity="1.000"/><stop offset="0.360" stop-color="#9e9e9e" stop-opacity="0.896"/><stop offset="0.520" stop-color="#9e9e9e" stop-opacity="0.648"/><stop offset="0.680" stop-color="#9e9e9e" stop-opacity="0.352"/><stop offset="0.840" stop-color="#9e9e9e" stop-opacity="0.104"/><stop offset="1.000" stop-color="#9e9e9e" stop-opacity="0.000"/></radialGradient><radialGradient id="g92"><stop offset="0.200" stop-color="#a0a0a0" stop-opacity="1.000"/><stop offset="0.360" stop-color="#a0a0a0" stop-opacity="0.896"/><stop offset="0.520" stop-color="#a0a0a0" stop-opacity="0.648"/><stop offset="0.680" stop-color="#a0a0a0" stop-opacity="0.352"/><stop offset="0.840" stop-color="#a0a0a0" stop-opacity="0.104"/><stop offset="1.000" stop-color="#a0a0a0" stop-opacity="0.000"/></radialGradient><radialGradient id="g93"><stop offset="0.200" stop-color="#b1b1b1" stop-opacity="1.000"/><stop offset="0.360" stop-color="#b1b1b1" stop-opacity="0.896"/><stop offset="0.520" stop-color="#b1b1b1" stop-opacity="0.648"/><stop offset="0.680" stop-color="#b1b1b1" stop-opacity="0.352"/><stop offset="0.840" stop-color="#b1b1b1" stop-opacity="0.104"/><stop offset="1.000" stop-color="#b1b1b1" stop-opacity="0.000"/></radialGradient><radialGradient id="g94"><stop offset="0.200" stop-color="#9c9c9c" stop-opacity="1.000"/><stop offset="0.360" stop-color="#9c9c9c" stop-opacity="0.896"/><stop offset="0.520" stop-color="#9c9c9c" stop-opacity="0.648"/><stop offset="0.680" stop-color="#9c9c9c" stop-opacity="0.352"/><stop offset="0.840" stop-color="#9c9c9c" stop-opacity="0.104"/><stop offset="1.000" stop-color="#9c9c9c" stop-opacity="0.000"/></radialGradient><radialGradient id="g95"><stop offset="0.200" stop-color="#d1d1d1" stop-opacity="1.000"/><stop offset="0.360" stop-color="#d1d1d1" stop-opacity="0.896"/><stop offset="0.520" stop-color="#d1d1d1" stop-opacity="0.648"/><stop offset="0.680" stop-color="#d1d1d1" stop-opacity="0.352"/><stop offset="0.840" stop-color="#d1d1d1" stop-opacity="0.104"/><stop offset="1.000" stop-color="#d1d1d1" stop-opacity="0.000"/></radialGradient><radialGradient id="g96"><stop offset="0.200" stop-color="#d1d1d1" stop-opacity="1.000"/><stop offset="0.360" stop-color="#d1d1d1" stop-opacity="0.896"/><stop offset="0.520" stop-color="#d1d1d1" stop-opacity="0.648"/><stop offset="0.680" stop-color="#d1d1d1" stop-opacity="0.352"/><stop offset="0.840" stop-color="#d1d1d1" stop-opacity="0.104"/><stop offset="1.000" stop-color="#d1d1d1" stop-opacity="0.000"/></radialGradient><radialGradient id="g97"><stop offset="0.200" stop-color="#d1d1d1" stop-opacity="1.000"/><stop offset="0.360" stop-color="#d1d1d1" stop-opacity="0.896"/><stop offset="0.520" stop-color="#d1d1d1" stop-opacity="0.648"/><stop offset="0.680" stop-color="#d1d1d1" stop-opacity="0.352"/><stop offset="0.840" stop-color="#d1d1d1" stop-opacity="0.104"/><stop offset="1.000" stop-color="#d1d1d1" stop-opacity="0.000"/></radialGradient><radialGradient id="g98"><stop offset="0.200" stop-color="#d4d4d4" stop-opacity="1.000"/><stop offset="0.360" stop-color="#d4d4d4" stop-opacity="0.896"/><stop offset="0.520" stop-color="#d4d4d4" stop-opacity="0.648"/><stop offset="0.680" stop-color="#d4d4d4" stop-opacity="0.352"/><stop offset="0.840" stop-color="#d4d4d4" stop-opacity="0.104"/><stop offset="1.000" stop-color="#d4d4d4" stop-opacity="0.000"/></radialGradient><radialGradient id="g99"><stop offset="0.200" stop-color="#d9d9d9" stop-opacity="1.000"/><stop offset="0.360" stop-color="#d9d9d9" stop-opacity="0.896"/><stop offset="0.520" stop-color="#d9d9d9" stop-opacity="0.648"/><stop offset="0.680" stop-color="#d9d9d9" stop-opacity="0.352"/><stop offset="0.840" stop-color="#d9d9d9" stop-opacity="0.104"/><stop offset="1.000" stop-color="#d9d9d9" stop-opacity="0.000"/></radialGradient><radialGradient id="g100"><stop offset="0.200" stop-color="#d9d9d9" stop-opacity="1.000"/><stop offset="0.360" stop-color="#d9d9d9" stop-opacity="0.896"/><stop offset="0.520" stop-color="#d9d9d9" stop-opacity="0.648"/><stop offset="0.680" stop-color="#d9d9d9" stop-opacity="0.352"/><stop offset="0.840" stop-color="#d9d9d9" stop-opacity="0.104"/><stop offset="1.000" stop-color="#d9d9d9" stop-opacity="0.000"/></radialGradient><radialGradient id="g101"><stop offset="0.200" stop-color="#d9d9d9" stop-opacity="1.000"/><stop offset="0.360" stop-color="#d9d9d9" stop-opacity="0.896"/><stop offset="0.520" stop-color="#d9d9d9" stop-opacity="0.648"/><stop offset="0.680" stop-color="#d9d9d9" stop-opacity="0.352"/><stop offset="0.840" stop-color="#d9d9d9" stop-opacity="0.104"/><stop offset="1.000" stop-color="#d9d9d9" stop-opacity="0.000"/></radialGradient><radialGradient id="g102"><stop offset="0.200" stop-color="#f7f7f7" stop-opacity="1.000"/><stop offset="0.360" stop-color="#f7f7f7" stop-opacity="0.896"/><stop offset="0.520" stop-color="#f7f7f7" stop-opacity="0.648"/><stop offset="0.680" stop-color="#f7f7f7" stop-opacity="0.352"/><stop offset="0.840" stop-color="#f7f7f7" stop-opacity="0.104"/><stop offset="1.000" stop-color="#f7f7f7" stop-opacity="0.000"/></radialGradient><radialGradient id="g103"><stop offset="0.200" stop-color="#f5f5f5" stop-opacity="1.000"/><stop offset="0.360" stop-color="#f5f5f5" stop-opacity="0.896"/><stop offset="0.520" stop-color="#f5f5f5" stop-opacity="0.648"/><stop offset="0.680" stop-color="#f5f5f5" stop-opacity="0.352"/><stop offset="0.840" stop-color="#f5f5f5" stop-opacity="0.104"/><stop offset="1.000" stop-color="#f5f5f5" stop-opacity="0.000"/></radialGradient><radialGradient id="g104"><stop offset="0.200" stop-color="#f5f5f5" stop-opacity="1.000"/><stop offset="0.360" stop-color="#f5f5f5" stop-opacity="0.896"/><stop offset="0.520" stop-color="#f5f5f5" stop-opacity="0.648"/><stop offset="0.680" stop-color="#f5f5f5" stop-opacity="0.352"/><stop offset="0.840" stop-color="#f5f5f5" stop-opacity="0.104"/><stop offset="1.000" stop-color="#f5f5f5" stop-opacity="0.000"/></radialGradient><radialGradient id="g105"><stop offset="0.200" stop-color="#f5f5f5" stop-opacity="1.000"/><stop offset="0.360" stop-color="#f5f5f5" stop-opacity="0.896"/><stop offset="0.520" stop-color="#f5f5f5" stop-opacity="0.648"/><stop offset="0.680" stop-color="#f5f5f5" stop-opacity="0.352"/><stop offset="0.840" stop-color="#f5f5f5" stop-opacity="0.104"/><stop offset="1.000" stop-color="#f5f5f5" stop-opacity="0.000"/></radialGradient><radialGradient id="g106"><stop offset="0.450" stop-color="#636363" stop-opacity="1.000"/><stop offset="0.560" stop-color="#636363" stop-opacity="0.896"/><stop offset="0.670" stop-color="#636363" stop-opacity="0.648"/><stop offset="0.780" stop-color="#636363" stop-opacity="0.352"/><stop offset="0.890" stop-color="#636363" stop-opacity="0.104"/><stop offset="1.000" stop-color="#636363" stop-opacity="0.000"/></radialGradient><radialGradient id="g107"><stop offset="0.450" stop-color="#6b6b6b" stop-opacity="1.000"/><stop offset="0.560" stop-color="#6b6b6b" stop-opacity="0.896"/><stop offset="0.670" stop-color="#6b6b6b" stop-opacity="0.648"/><stop offset="0.780" stop-color="#6b6b6b" stop-opacity="0.352"/><stop offset="0.890" stop-color="#6b6b6b" stop-opacity="0.104"/><stop offset="1.000" stop-color="#6b6b6b" stop-opacity="0.000"/></radialGradient><radialGradient id="g108"><stop offset="0.580" stop-color="#565656" stop-opacity="1.000"/><stop offset="0.664" stop-color="#565656" stop-opacity="0.896"/><stop offset="0.748" stop-color="#565656" stop-opacity="0.648"/><stop offset="0.832" stop-color="#565656" stop-opacity="0.352"/><stop offset="0.916" stop-color="#565656" stop-opacity="0.104"/><stop offset="1.000" stop-color="#565656" stop-opacity="0.000"/></radialGradient><radialGradient id="g109"><stop offset="0.580" stop-color="#565656" stop-opacity="1.000"/><stop offset="0.664" stop-color="#565656" stop-opacity="0.896"/><stop offset="0.748" stop-color="#565656" stop-opacity="0.648"/><stop offset="0.832" stop-color="#565656" stop-opacity="0.352"/><stop offset="0.916" stop-color="#565656" stop-opacity="0.104"/><stop offset="1.000" stop-color="#565656" stop-opacity="0.000"/></radialGradient><radialGradient id="g110"><stop offset="0.580" stop-color="#565656" stop-opacity="1.000"/><stop offset="0.664" stop-color="#565656" stop-opacity="0.896"/><stop offset="0.748" stop-color="#565656" stop-opacity="0.648"/><stop offset="0.832" stop-color="#565656" stop-opacity="0.352"/><stop offset="0.916" stop-color="#565656" stop-opacity="0.104"/><stop offset="1.000" stop-color="#565656" stop-opacity="0.000"/></radialGradient><radialGradient id="g111"><stop offset="0.580" stop-color="#565656" stop-opacity="1.000"/><stop offset="0.664" stop-color="#565656" stop-opacity="0.896"/><stop offset="0.748" stop-color="#565656" stop-opacity="0.648"/><stop offset="0.832" stop-color="#565656" stop-opacity="0.352"/><stop offset="0.916" stop-color="#565656" stop-opacity="0.104"/><stop offset="1.000" stop-color="#565656" stop-opacity="0.000"/></radialGradient><radialGradient id="g112"><stop offset="0.580" stop-color="#565656" stop-opacity="1.000"/><stop offset="0.664" stop-color="#565656" stop-opacity="0.896"/><stop offset="0.748" stop-color="#565656" stop-opacity="0.648"/><stop offset="0.832" stop-color="#565656" stop-opacity="0.352"/><stop offset="0.916" stop-color="#565656" stop-opacity="0.104"/><stop offset="1.000" stop-color="#565656" stop-opacity="0.000"/></radialGradient><radialGradient id="g113"><stop offset="0.300" stop-color="#7e7e7e" stop-opacity="1.000"/><stop offset="0.440" stop-color="#7e7e7e" stop-opacity="0.896"/><stop offset="0.580" stop-color="#7e7e7e" stop-opacity="0.648"/><stop offset="0.720" stop-color="#7e7e7e" stop-opacity="0.352"/><stop offset="0.860" stop-color="#7e7e7e" stop-opacity="0.104"/><stop offset="1.000" stop-color="#7e7e7e" stop-opacity="0.000"/></radialGradient><radialGradient id="g114"><stop offset="0.680" stop-color="#323232" stop-opacity="1.000"/><stop offset="0.744" stop-color="#323232" stop-opacity="0.896"/><stop offset="0.808" stop-color="#323232" stop-opacity="0.648"/><stop offset="0.872" stop-color="#323232" stop-opacity="0.352"/><stop offset="0.936" stop-color="#323232" stop-opacity="0.104"/><stop offset="1.000" stop-color="#323232" stop-opacity="0.000"/></radialGradient><radialGradient id="g115"><stop offset="0.450" stop-color="#4c4c4c" stop-opacity="1.000"/><stop offset="0.560" stop-color="#4c4c4c" stop-opacity="0.896"/><stop offset="0.670" stop-color="#4c4c4c" stop-opacity="0.648"/><stop offset="0.780" stop-color="#4c4c4c" stop-opacity="0.352"/><stop offset="0.890" stop-color="#4c4c4c" stop-opacity="0.104"/><stop offset="1.000" stop-color="#4c4c4c" stop-opacity="0.000"/></radialGradient><radialGradient id="g116"><stop offset="0.450" stop-color="#4c4c4c" stop-opacity="1.000"/><stop offset="0.560" stop-color="#4c4c4c" stop-opacity="0.896"/><stop offset="0.670" stop-color="#4c4c4c" stop-opacity="0.648"/><stop offset="0.780" stop-color="#4c4c4c" stop-opacity="0.352"/><stop offset="0.890" stop-color="#4c4c4c" stop-opacity="0.104"/><stop offset="1.000" stop-color="#4c4c4c" stop-opacity="0.000"/></radialGradient><filter id="bl4" filterUnits="userSpaceOnUse" x="-100" y="-100" width="2200" height="1100" color-interpolation-filters="sRGB"><feGaussianBlur stdDeviation="4"/></filter><filter id="bl5" filterUnits="userSpaceOnUse" x="-100" y="-100" width="2200" height="1100" color-interpolation-filters="sRGB"><feGaussianBlur stdDeviation="5"/></filter><filter id="bl6" filterUnits="userSpaceOnUse" x="-100" y="-100" width="2200" height="1100" color-interpolation-filters="sRGB"><feGaussianBlur stdDeviation="6"/></filter><filter id="bl7" filterUnits="userSpaceOnUse" x="-100" y="-100" width="2200" height="1100" color-interpolation-filters="sRGB"><feGaussianBlur stdDeviation="7"/></filter><filter id="bl11" filterUnits="userSpaceOnUse" x="-100" y="-100" width="2200" height="1100" color-interpolation-filters="sRGB"><feGaussianBlur stdDeviation="11"/></filter><filter id="bl12" filterUnits="userSpaceOnUse" x="-100" y="-100" width="2200" height="1100" color-interpolation-filters="sRGB"><feGaussianBlur stdDeviation="12"/></filter><clipPath id="cpB"><rect x="1019.20" y="35.40" width="908.40" height="178.50"/></clipPath><clipPath id="cpD"><rect x="1019.20" y="236.80" width="908.40" height="178.50"/></clipPath><clipPath id="cpF"><rect x="1019.20" y="438.70" width="908.40" height="178.30"/></clipPath><clipPath id="cpH"><rect x="1019.20" y="671.20" width="908.40" height="177.80"/></clipPath></defs><g clip-path="url(#cpA)"><g filter="url(#vir)"><rect x="-35.50" y="-4.50" width="986.80" height="261.70" fill="#acacac"/><ellipse cx="630.0" cy="55.0" rx="120.0" ry="50.0" fill="url(#g1)"/><polygon points="740.0,0.0 960.0,0.0 960.0,240.0 740.0,240.0" fill="url(#lg2)" filter="url(#bl4)"/><polygon points="-20.0,10.0 532.0,10.0 528.0,38.0 512.0,55.0 484.0,68.0 471.0,80.0 464.0,110.0 460.0,141.0 450.0,175.0 440.0,204.0 432.0,240.0 -20.0,240.0" fill="url(#lg3)" filter="url(#bl12)"/><ellipse cx="672.0" cy="60.0" rx="45.0" ry="40.0" fill="url(#g4)"/><ellipse cx="392.0" cy="130.0" rx="34.0" ry="30.0" fill="url(#g5)"/><ellipse cx="148.0" cy="50.0" rx="28.0" ry="20.0" fill="url(#g6)"/><ellipse cx="280.0" cy="43.0" rx="24.0" ry="16.0" fill="url(#g7)"/><ellipse cx="40.0" cy="165.0" rx="30.0" ry="22.0" fill="url(#g8)"/><ellipse cx="335.0" cy="195.0" rx="30.0" ry="22.0" fill="url(#g9)"/><ellipse cx="160.0" cy="175.0" rx="25.0" ry="20.0" fill="url(#g10)"/><ellipse cx="420.0" cy="60.0" rx="35.0" ry="30.0" fill="url(#g11)"/><ellipse cx="20.0" cy="200.0" rx="20.0" ry="15.0" fill="url(#g12)"/><ellipse cx="60.0" cy="55.0" rx="35.0" ry="18.0" fill="url(#g13)"/><ellipse cx="112.0" cy="100.0" rx="25.0" ry="15.0" fill="url(#g14)"/><ellipse cx="160.0" cy="100.0" rx="18.0" ry="18.0" fill="url(#g15)"/><ellipse cx="240.0" cy="150.0" rx="35.0" ry="25.0" fill="url(#g16)"/><ellipse cx="330.0" cy="88.0" rx="35.0" ry="22.0" fill="url(#g17)"/><ellipse cx="112.0" cy="190.0" rx="22.0" ry="14.0" fill="url(#g18)"/><ellipse cx="250.0" cy="48.0" rx="30.0" ry="12.0" fill="url(#g19)"/><ellipse cx="15.0" cy="140.0" rx="15.0" ry="20.0" fill="url(#g20)"/><ellipse cx="828.0" cy="172.0" rx="32.0" ry="26.0" fill="url(#g21)"/><ellipse cx="484.0" cy="115.0" rx="18.0" ry="24.0" fill="url(#g22)"/><ellipse cx="735.0" cy="67.0" rx="28.0" ry="18.0" fill="url(#g23)"/><ellipse cx="503.0" cy="200.0" rx="34.0" ry="26.0" fill="url(#g24)"/><ellipse cx="665.0" cy="206.0" rx="32.0" ry="22.0" fill="url(#g25)"/><ellipse cx="748.0" cy="205.0" rx="24.0" ry="22.0" fill="url(#g26)"/><ellipse cx="34.9" cy="96.4" rx="32.0" ry="26.0" fill="url(#g27)"/><ellipse cx="118.5" cy="138.7" rx="35.0" ry="30.0" fill="url(#g28)"/><ellipse cx="205.3" cy="92.1" rx="34.0" ry="33.0" fill="url(#g29)"/><ellipse cx="294.4" cy="124.3" rx="32.0" ry="35.0" fill="url(#g30)"/><ellipse cx="220.5" cy="204.0" rx="34.0" ry="34.0" fill="url(#g31)"/><ellipse cx="745.0" cy="140.0" rx="68.0" ry="60.0" fill="url(#g32)"/><polygon points="715.0,108.0 778.0,110.0 791.0,132.0 774.0,155.0 744.0,186.0 715.0,156.0 709.0,130.0" fill="#2f2f2f" filter="url(#bl7)"/></g></g><g clip-path="url(#cpC)"><g filter="url(#vir)"><rect x="-35.50" y="197.00" width="986.80" height="261.70" fill="#acacac"/><ellipse cx="640.0" cy="258.0" rx="120.0" ry="45.0" fill="url(#g33)"/><ellipse cx="560.0" cy="405.0" rx="100.0" ry="30.0" fill="url(#g34)"/><polygon points="740.0,220.0 960.0,220.0 960.0,440.0 740.0,440.0" fill="url(#lg35)" filter="url(#bl4)"/><polygon points="-20.0,220.0 528.0,220.0 526.0,245.0 507.0,262.0 500.0,270.0 472.0,288.0 472.0,305.0 484.0,318.0 472.0,333.0 452.0,343.0 435.0,374.0 424.0,420.0 422.0,440.0 -20.0,440.0" fill="url(#lg36)" filter="url(#bl11)"/><ellipse cx="665.0" cy="255.0" rx="45.0" ry="30.0" fill="url(#g37)"/><ellipse cx="400.0" cy="328.6" rx="34.0" ry="26.0" fill="url(#g38)"/><ellipse cx="145.0" cy="250.0" rx="26.0" ry="18.0" fill="url(#g39)"/><ellipse cx="280.0" cy="246.0" rx="22.0" ry="16.0" fill="url(#g40)"/><ellipse cx="60.0" cy="370.0" rx="35.0" ry="20.0" fill="url(#g41)"/><ellipse cx="170.0" cy="380.0" rx="30.0" ry="20.0" fill="url(#g42)"/><ellipse cx="340.0" cy="390.0" rx="30.0" ry="25.0" fill="url(#g43)"/><ellipse cx="225.0" cy="350.0" rx="16.0" ry="20.0" fill="url(#g44)"/><ellipse cx="130.0" cy="265.0" rx="40.0" ry="20.0" fill="url(#g45)"/><ellipse cx="190.0" cy="252.0" rx="20.0" ry="15.0" fill="url(#g46)"/><ellipse cx="40.0" cy="255.0" rx="30.0" ry="15.0" fill="url(#g47)"/><ellipse cx="831.0" cy="376.0" rx="30.0" ry="25.0" fill="url(#g48)"/><polygon points="462.0,287.0 470.0,285.0 495.0,305.0 490.0,312.0" fill="#8d8d8d" filter="url(#bl6)"/><ellipse cx="503.0" cy="385.0" rx="34.0" ry="28.0" fill="url(#g49)"/><ellipse cx="465.0" cy="413.0" rx="18.0" ry="14.0" fill="url(#g50)"/><ellipse cx="662.0" cy="409.0" rx="28.0" ry="18.0" fill="url(#g51)"/><ellipse cx="742.0" cy="385.0" rx="32.0" ry="34.0" fill="url(#g52)"/><ellipse cx="33.3" cy="297.5" rx="30.0" ry="25.0" fill="url(#g53)"/><ellipse cx="116.1" cy="342.4" rx="31.0" ry="28.5" fill="url(#g54)"/><ellipse cx="203.5" cy="291.8" rx="30.0" ry="26.5" fill="url(#g55)"/><ellipse cx="294.4" cy="327.4" rx="30.0" ry="29.0" fill="url(#g56)"/><ellipse cx="223.1" cy="399.0" rx="27.0" ry="27.0" fill="url(#g57)"/><ellipse cx="749.0" cy="352.0" rx="60.0" ry="60.0" fill="url(#g58)"/><ellipse cx="749.5" cy="350.0" rx="46.0" ry="48.0" fill="url(#g59)"/></g></g><g clip-path="url(#cpE)"><g filter="url(#vir)"><rect x="-35.50" y="398.50" width="986.80" height="261.90" fill="#acacac"/><ellipse cx="640.0" cy="460.0" rx="120.0" ry="40.0" fill="url(#g60)"/><ellipse cx="540.0" cy="600.0" rx="100.0" ry="40.0" fill="url(#g61)"/><polygon points="740.0,420.0 960.0,420.0 960.0,640.0 740.0,640.0" fill="url(#lg62)" filter="url(#bl4)"/><ellipse cx="860.0" cy="480.0" rx="90.0" ry="50.0" fill="url(#g63)"/><polygon points="-20.0,420.0 528.0,420.0 526.0,447.0 507.0,463.0 500.0,471.0 472.0,488.0 472.0,507.0 484.0,520.0 472.0,535.0 452.0,545.0 435.0,576.0 424.0,622.0 422.0,640.0 -20.0,640.0" fill="url(#lg64)" filter="url(#bl11)"/><ellipse cx="400.0" cy="533.0" rx="34.0" ry="26.0" fill="url(#g65)"/><ellipse cx="115.0" cy="442.0" rx="22.0" ry="17.0" fill="url(#g66)"/><ellipse cx="150.0" cy="465.0" rx="30.0" ry="20.0" fill="url(#g67)"/><ellipse cx="280.0" cy="452.0" rx="22.0" ry="16.0" fill="url(#g68)"/><ellipse cx="60.0" cy="575.0" rx="35.0" ry="20.0" fill="url(#g69)"/><ellipse cx="180.0" cy="585.0" rx="30.0" ry="20.0" fill="url(#g70)"/><ellipse cx="80.0" cy="458.0" rx="30.0" ry="15.0" fill="url(#g71)"/><ellipse cx="130.0" cy="485.0" rx="40.0" ry="20.0" fill="url(#g72)"/><ellipse cx="240.0" cy="560.0" rx="16.0" ry="20.0" fill="url(#g73)"/><ellipse cx="840.0" cy="565.0" rx="34.0" ry="20.0" fill="url(#g74)"/><ellipse cx="638.0" cy="569.0" rx="24.0" ry="18.0" fill="url(#g75)"/><ellipse cx="506.0" cy="592.0" rx="32.0" ry="26.0" fill="url(#g76)"/><polygon points="462.0,489.0 470.0,487.0 495.0,507.0 490.0,514.0" fill="#8d8d8d" filter="url(#bl6)"/><ellipse cx="601.0" cy="611.0" rx="28.0" ry="16.0" fill="url(#g77)"/><ellipse cx="908.0" cy="587.0" rx="18.0" ry="22.0" fill="url(#g78)"/><ellipse cx="33.3" cy="500.7" rx="30.0" ry="25.0" fill="url(#g79)"/><ellipse cx="116.1" cy="544.4" rx="31.0" ry="28.5" fill="url(#g80)"/><ellipse cx="203.5" cy="493.8" rx="30.0" ry="26.5" fill="url(#g81)"/><ellipse cx="294.4" cy="530.6" rx="30.0" ry="28.5" fill="url(#g82)"/><ellipse cx="223.1" cy="602.0" rx="27.0" ry="27.0" fill="url(#g83)"/><ellipse cx="750.0" cy="550.0" rx="60.0" ry="56.0" fill="url(#g84)"/><ellipse cx="747.7" cy="548.0" rx="46.0" ry="45.0" fill="url(#g85)"/></g></g><g clip-path="url(#cpG)"><g filter="url(#vir)"><rect x="-35.50" y="630.80" width="986.80" height="261.20" fill="#a7a7a7"/><ellipse cx="640.0" cy="700.0" rx="110.0" ry="40.0" fill="url(#g86)"/><ellipse cx="870.0" cy="700.0" rx="60.0" ry="40.0" fill="url(#g87)"/><polygon points="-20.0,650.0 534.0,650.0 531.0,671.0 520.0,695.0 510.0,713.0 490.0,722.0 468.0,728.0 475.0,742.0 483.0,753.0 470.0,776.0 456.0,808.0 439.0,831.0 432.0,852.0 430.0,870.0 -20.0,870.0" fill="url(#lg88)" filter="url(#bl5)"/><ellipse cx="857.0" cy="795.0" rx="22.0" ry="17.0" fill="url(#g89)"/><ellipse cx="570.0" cy="760.0" rx="32.0" ry="22.0" fill="url(#g90)"/><ellipse cx="700.0" cy="740.0" rx="32.0" ry="22.0" fill="url(#g91)"/><ellipse cx="560.0" cy="705.0" rx="36.0" ry="20.0" fill="url(#g92)"/><ellipse cx="610.0" cy="800.0" rx="36.0" ry="22.0" fill="url(#g93)"/><ellipse cx="520.0" cy="830.0" rx="50.0" ry="25.0" fill="url(#g94)"/><ellipse cx="75.0" cy="748.0" rx="18.0" ry="14.0" fill="url(#g95)"/><ellipse cx="165.0" cy="785.0" rx="14.0" ry="12.0" fill="url(#g96)"/><ellipse cx="330.0" cy="822.0" rx="36.0" ry="20.0" fill="url(#g97)"/><ellipse cx="420.0" cy="760.0" rx="32.0" ry="27.0" fill="url(#g98)"/><ellipse cx="380.0" cy="700.0" rx="32.0" ry="20.0" fill="url(#g99)"/><ellipse cx="150.0" cy="700.0" rx="20.0" ry="14.0" fill="url(#g100)"/><ellipse cx="260.0" cy="800.0" rx="20.0" ry="14.0" fill="url(#g101)"/><ellipse cx="50.0" cy="820.0" rx="35.0" ry="15.0" fill="url(#g102)"/><ellipse cx="120.0" cy="700.0" rx="30.0" ry="18.0" fill="url(#g103)"/><ellipse cx="300.0" cy="705.0" rx="25.0" ry="15.0" fill="url(#g104)"/><ellipse cx="200.0" cy="680.0" rx="25.0" ry="10.0" fill="url(#g105)"/><ellipse cx="124.0" cy="671.0" rx="20.0" ry="14.0" fill="url(#g106)"/><ellipse cx="267.0" cy="671.0" rx="18.0" ry="12.0" fill="url(#g107)"/><ellipse cx="34.5" cy="732.8" rx="28.5" ry="24.0" fill="url(#g108)"/><ellipse cx="118.4" cy="775.4" rx="30.0" ry="26.5" fill="url(#g109)"/><ellipse cx="204.7" cy="728.2" rx="29.5" ry="24.0" fill="url(#g110)"/><ellipse cx="296.7" cy="762.7" rx="28.5" ry="26.0" fill="url(#g111)"/><ellipse cx="227.7" cy="833.0" rx="25.5" ry="26.0" fill="url(#g112)"/><ellipse cx="750.0" cy="782.0" rx="55.0" ry="50.0" fill="url(#g113)"/><ellipse cx="750.0" cy="779.0" rx="43.5" ry="40.5" fill="url(#g114)"/><ellipse cx="638.0" cy="853.0" rx="24.0" ry="14.0" fill="url(#g115)"/><ellipse cx="911.0" cy="823.0" rx="12.0" ry="24.0" fill="url(#g116)"/></g></g><rect x="4.50" y="35.50" width="906.80" height="181.70" fill="none" stroke="#1a1a1a" stroke-width="1.4"/><rect x="918.60" y="41.50" width="8.80" height="170.10" fill="url(#cbg)" stroke="#000" stroke-width="1.4"/><line x1="927.40" y1="211.60" x2="933.20" y2="211.60" stroke="#000" stroke-width="1.4"/><text x="938.70" y="222.60" class="tk">0.0</text><line x1="927.40" y1="160.82" x2="933.20" y2="160.82" stroke="#000" stroke-width="1.4"/><text x="938.70" y="171.82" class="tk">0.1</text><line x1="927.40" y1="110.05" x2="933.20" y2="110.05" stroke="#000" stroke-width="1.4"/><text x="938.70" y="121.05" class="tk">0.2</text><line x1="927.40" y1="59.27" x2="933.20" y2="59.27" stroke="#000" stroke-width="1.4"/><text x="938.70" y="70.27" class="tk">0.3</text><rect x="4.50" y="237.00" width="906.80" height="181.70" fill="none" stroke="#1a1a1a" stroke-width="1.4"/><rect x="918.60" y="243.00" width="8.80" height="170.10" fill="url(#cbg)" stroke="#000" stroke-width="1.4"/><line x1="927.40" y1="413.10" x2="933.20" y2="413.10" stroke="#000" stroke-width="1.4"/><text x="938.70" y="424.10" class="tk">0.0</text><line x1="927.40" y1="362.32" x2="933.20" y2="362.32" stroke="#000" stroke-width="1.4"/><text x="938.70" y="373.32" class="tk">0.1</text><line x1="927.40" y1="311.55" x2="933.20" y2="311.55" stroke="#000" stroke-width="1.4"/><text x="938.70" y="322.55" class="tk">0.2</text><line x1="927.40" y1="260.77" x2="933.20" y2="260.77" stroke="#000" stroke-width="1.4"/><text x="938.70" y="271.77" class="tk">0.3</text><rect x="4.50" y="438.50" width="906.80" height="181.90" fill="none" stroke="#1a1a1a" stroke-width="1.4"/><rect x="918.60" y="444.50" width="8.80" height="170.10" fill="url(#cbg)" stroke="#000" stroke-width="1.4"/><line x1="927.40" y1="614.60" x2="933.20" y2="614.60" stroke="#000" stroke-width="1.4"/><text x="938.70" y="625.60" class="tk">0.0</text><line x1="927.40" y1="563.82" x2="933.20" y2="563.82" stroke="#000" stroke-width="1.4"/><text x="938.70" y="574.82" class="tk">0.1</text><line x1="927.40" y1="513.05" x2="933.20" y2="513.05" stroke="#000" stroke-width="1.4"/><text x="938.70" y="524.05" class="tk">0.2</text><line x1="927.40" y1="462.27" x2="933.20" y2="462.27" stroke="#000" stroke-width="1.4"/><text x="938.70" y="473.27" class="tk">0.3</text><rect x="4.50" y="670.80" width="906.80" height="181.20" fill="none" stroke="#1a1a1a" stroke-width="1.4"/><rect x="918.60" y="676.30" width="8.80" height="170.20" fill="url(#cbg)" stroke="#000" stroke-width="1.4"/><line x1="927.40" y1="846.50" x2="933.20" y2="846.50" stroke="#000" stroke-width="1.4"/><text x="938.70" y="857.50" class="tk">0.0</text><line x1="927.40" y1="795.69" x2="933.20" y2="795.69" stroke="#000" stroke-width="1.4"/><text x="938.70" y="806.69" class="tk">0.1</text><line x1="927.40" y1="744.89" x2="933.20" y2="744.89" stroke="#000" stroke-width="1.4"/><text x="938.70" y="755.89" class="tk">0.2</text><line x1="927.40" y1="694.08" x2="933.20" y2="694.08" stroke="#000" stroke-width="1.4"/><text x="938.70" y="705.08" class="tk">0.3</text><rect x="1019.20" y="35.40" width="908.40" height="178.50" fill="none" stroke="#1a1a1a" stroke-width="1.4"/><rect x="1934.80" y="39.60" width="8.60" height="170.20" fill="url(#cbg)" stroke="#000" stroke-width="1.4"/><rect x="1935.50" y="207.80" width="7.20" height="1.3" fill="#fff"/><line x1="1943.40" y1="209.80" x2="1949.20" y2="209.80" stroke="#000" stroke-width="1.4"/><text x="1954.70" y="220.80" class="tk">0.0</text><line x1="1943.40" y1="158.99" x2="1949.20" y2="158.99" stroke="#000" stroke-width="1.4"/><text x="1954.70" y="169.99" class="tk">0.1</text><line x1="1943.40" y1="108.19" x2="1949.20" y2="108.19" stroke="#000" stroke-width="1.4"/><text x="1954.70" y="119.19" class="tk">0.2</text><line x1="1943.40" y1="57.38" x2="1949.20" y2="57.38" stroke="#000" stroke-width="1.4"/><text x="1954.70" y="68.38" class="tk">0.3</text><rect x="1019.20" y="236.80" width="908.40" height="178.50" fill="none" stroke="#1a1a1a" stroke-width="1.4"/><rect x="1934.80" y="241.10" width="8.60" height="170.20" fill="url(#cbg)" stroke="#000" stroke-width="1.4"/><rect x="1935.50" y="409.30" width="7.20" height="1.3" fill="#fff"/><line x1="1943.40" y1="411.30" x2="1949.20" y2="411.30" stroke="#000" stroke-width="1.4"/><text x="1954.70" y="422.30" class="tk">0.0</text><line x1="1943.40" y1="360.49" x2="1949.20" y2="360.49" stroke="#000" stroke-width="1.4"/><text x="1954.70" y="371.49" class="tk">0.1</text><line x1="1943.40" y1="309.69" x2="1949.20" y2="309.69" stroke="#000" stroke-width="1.4"/><text x="1954.70" y="320.69" class="tk">0.2</text><line x1="1943.40" y1="258.88" x2="1949.20" y2="258.88" stroke="#000" stroke-width="1.4"/><text x="1954.70" y="269.88" class="tk">0.3</text><rect x="1019.20" y="438.70" width="908.40" height="178.30" fill="none" stroke="#1a1a1a" stroke-width="1.4"/><rect x="1934.80" y="442.60" width="8.60" height="170.20" fill="url(#cbg)" stroke="#000" stroke-width="1.4"/><rect x="1935.50" y="610.80" width="7.20" height="1.3" fill="#fff"/><line x1="1943.40" y1="612.80" x2="1949.20" y2="612.80" stroke="#000" stroke-width="1.4"/><text x="1954.70" y="623.80" class="tk">0.0</text><line x1="1943.40" y1="561.99" x2="1949.20" y2="561.99" stroke="#000" stroke-width="1.4"/><text x="1954.70" y="572.99" class="tk">0.1</text><line x1="1943.40" y1="511.19" x2="1949.20" y2="511.19" stroke="#000" stroke-width="1.4"/><text x="1954.70" y="522.19" class="tk">0.2</text><line x1="1943.40" y1="460.38" x2="1949.20" y2="460.38" stroke="#000" stroke-width="1.4"/><text x="1954.70" y="471.38" class="tk">0.3</text><rect x="1019.20" y="671.20" width="908.40" height="177.80" fill="none" stroke="#1a1a1a" stroke-width="1.4"/><rect x="1934.80" y="675.40" width="8.60" height="170.20" fill="url(#cbg)" stroke="#000" stroke-width="1.4"/><rect x="1935.50" y="843.60" width="7.20" height="1.3" fill="#fff"/><line x1="1943.40" y1="845.60" x2="1949.20" y2="845.60" stroke="#000" stroke-width="1.4"/><text x="1954.70" y="856.60" class="tk">0.0</text><line x1="1943.40" y1="794.79" x2="1949.20" y2="794.79" stroke="#000" stroke-width="1.4"/><text x="1954.70" y="805.79" class="tk">0.1</text><line x1="1943.40" y1="743.99" x2="1949.20" y2="743.99" stroke="#000" stroke-width="1.4"/><text x="1954.70" y="754.99" class="tk">0.2</text><line x1="1943.40" y1="693.18" x2="1949.20" y2="693.18" stroke="#000" stroke-width="1.4"/><text x="1954.70" y="704.18" class="tk">0.3</text><g clip-path="url(#cpB)" stroke-linecap="round" stroke-width="5.00" fill="none"><path stroke="#1e9c89" d="M1653.7 195.9h0M1813.5 159.3h0"/><path stroke="#1f968b" d="M1124.2 118.1h0M1197.2 86.0h0M1197.2 90.6h0M1749.6 186.7h0"/><path stroke="#1fa287" d="M1119.6 118.1h0M1142.5 118.1h0M1220.1 191.3h0M1334.2 122.7h0M1722.2 163.9h0M1799.8 104.4h0M1808.9 99.8h0M1895.6 81.5h0M1904.8 168.4h0"/><path stroke="#21918c" d="M1110.5 145.5h0M1224.6 186.7h0M1252.0 214.2h0M1799.8 108.9h0"/><path stroke="#22a884" d="M1046.6 72.3h0M1197.2 81.5h0M1215.5 67.7h0M1256.6 214.2h0M1516.8 191.3h0M1804.3 95.2h0M1804.3 209.6h0M1804.3 214.2h0M1813.5 95.2h0M1827.2 86.0h0M1836.3 86.0h0M1845.4 90.6h0M1850.0 58.6h0M1850.0 122.7h0M1872.8 104.4h0M1882.0 191.3h0M1891.1 35.7h0M1918.5 122.7h0M1923.0 49.4h0"/><path stroke="#238a8d" d="M1128.8 118.1h0M1151.6 131.8h0M1329.6 118.1h0M1745.0 182.2h0M1790.7 182.2h0"/><path stroke="#25848e" d="M1119.6 122.7h0M1151.6 136.4h0"/><path stroke="#277e8e" d="M1224.6 191.3h0M1233.7 81.5h0M1247.4 214.2h0M1795.2 108.9h0M1799.8 113.5h0"/><path stroke="#28ae80" d="M1105.9 141.0h0M1315.9 150.1h0M1334.2 118.1h0M1503.1 104.4h0M1598.9 86.0h0M1703.9 122.7h0M1708.5 127.2h0M1708.5 136.4h0M1717.6 35.7h0M1717.6 127.2h0M1740.4 81.5h0M1745.0 76.9h0M1745.0 86.0h0M1749.6 90.6h0M1754.1 72.3h0M1754.1 76.9h0M1754.1 81.5h0M1754.1 90.6h0M1781.5 90.6h0M1799.8 214.2h0M1804.3 67.7h0M1804.3 90.6h0M1804.3 99.8h0M1804.3 104.4h0M1804.3 200.5h0M1804.3 205.0h0M1808.9 90.6h0M1808.9 95.2h0M1808.9 200.5h0M1808.9 205.0h0M1808.9 209.6h0M1808.9 214.2h0M1813.5 90.6h0M1818.0 90.6h0M1822.6 86.0h0M1822.6 90.6h0M1827.2 81.5h0M1827.2 113.5h0M1831.7 86.0h0M1836.3 205.0h0M1840.9 168.4h0M1859.1 145.5h0"/><path stroke="#2a788e" d="M1224.6 195.9h0"/><path stroke="#2c728e" d="M1133.3 122.7h0M1754.1 182.2h0"/><path stroke="#2f6c8e" d="M1142.5 127.2h0M1229.2 191.3h0M1229.2 195.9h0M1297.7 122.7h0M1306.8 113.5h0M1311.3 113.5h0M1315.9 141.0h0M1735.9 118.1h0M1758.7 182.2h0M1795.2 113.5h0"/><path stroke="#2fb47c" d="M1064.8 113.5h0M1105.9 136.4h0M1105.9 145.5h0M1220.1 186.7h0M1471.1 200.5h0M1498.5 95.2h0M1507.6 108.9h0M1576.1 40.3h0M1585.2 131.8h0M1676.5 141.0h0M1690.2 95.2h0M1690.2 214.2h0M1694.8 122.7h0M1694.8 127.2h0M1694.8 186.7h0M1694.8 214.2h0M1699.4 122.7h0M1699.4 127.2h0M1699.4 131.8h0M1699.4 186.7h0M1699.4 214.2h0M1703.9 127.2h0M1703.9 131.8h0M1703.9 136.4h0M1703.9 141.0h0M1703.9 214.2h0M1708.5 122.7h0M1708.5 131.8h0M1708.5 141.0h0M1708.5 214.2h0M1713.1 76.9h0M1713.1 122.7h0M1713.1 127.2h0M1713.1 131.8h0M1713.1 136.4h0M1713.1 141.0h0M1722.2 40.3h0M1740.4 76.9h0M1745.0 81.5h0M1745.0 209.6h0M1749.6 72.3h0M1749.6 76.9h0M1749.6 81.5h0M1749.6 86.0h0M1754.1 86.0h0M1758.7 44.9h0"/><path stroke="#31668e" d="M1051.2 90.6h0M1051.2 99.8h0M1133.3 145.5h0M1220.1 99.8h0M1302.2 118.1h0M1306.8 122.7h0M1749.6 177.6h0"/><path stroke="#355f8d" d="M1763.3 104.4h0M1767.8 104.4h0M1804.3 131.8h0"/><path stroke="#38598c" d="M1754.1 108.9h0M1754.1 177.6h0M1804.3 136.4h0"/><path stroke="#38b977" d="M1060.3 118.1h0M1124.2 113.5h0M1192.7 90.6h0M1197.2 76.9h0M1247.4 173.0h0M1493.9 90.6h0M1493.9 145.5h0M1498.5 99.8h0M1503.1 99.8h0M1503.1 108.9h0M1507.6 99.8h0M1516.8 113.5h0M1539.6 168.4h0M1553.3 122.7h0M1562.4 209.6h0M1608.1 173.0h0M1621.8 63.2h0M1630.9 154.7h0M1644.6 108.9h0M1667.4 54.0h0"/><path stroke="#3b528b" d="M1731.3 141.0h0M1749.6 173.0h0M1758.7 108.9h0M1758.7 177.6h0M1763.3 177.6h0M1799.8 127.2h0"/><path stroke="#3e4a89" d="M1754.1 173.0h0M1763.3 108.9h0M1767.8 108.9h0M1772.4 108.9h0M1795.2 122.7h0M1799.8 131.8h0M1799.8 136.4h0"/><path stroke="#414487" d="M1749.6 168.4h0M1754.1 113.5h0M1754.1 118.1h0M1754.1 168.4h0M1758.7 113.5h0M1758.7 118.1h0M1758.7 168.4h0M1758.7 173.0h0M1763.3 113.5h0M1763.3 118.1h0M1763.3 168.4h0M1763.3 173.0h0M1767.8 136.4h0M1781.5 113.5h0M1795.2 127.2h0M1795.2 131.8h0M1795.2 136.4h0"/><path stroke="#44bf70" d="M1105.9 150.1h0M1156.1 127.2h0M1192.7 86.0h0M1530.5 76.9h0"/><path stroke="#50c46a" d="M1220.1 182.2h0M1265.7 186.7h0"/><path stroke="#5ec962" d="M1064.8 118.1h0M1069.4 113.5h0M1156.1 35.7h0M1192.7 81.5h0M1338.7 122.7h0M1338.7 127.2h0"/><path stroke="#6ccd5a" d="M1101.4 141.0h0M1156.1 122.7h0M1197.2 72.3h0M1338.7 118.1h0"/><path stroke="#7ad151" d="M1060.3 122.7h0M1101.4 136.4h0M1101.4 145.5h0M1192.7 76.9h0M1206.4 118.1h0M1215.5 186.7h0M1293.1 150.1h0"/><path stroke="#8bd646" d="M1160.7 127.2h0M1188.1 86.0h0M1188.1 90.6h0M1188.1 95.2h0M1220.1 177.6h0M1347.9 72.3h0"/><path stroke="#9bd93c" d="M1028.3 67.7h0M1064.8 122.7h0M1069.4 118.1h0M1156.1 118.1h0M1169.8 35.7h0M1188.1 81.5h0M1215.5 182.2h0M1302.2 163.9h0M1343.3 127.2h0"/><path stroke="#addc30" d="M1019.2 177.6h0M1023.8 72.3h0M1023.8 173.0h0M1023.8 182.2h0M1023.8 186.7h0M1023.8 191.3h0M1023.8 200.5h0M1028.3 205.0h0M1032.9 200.5h0M1046.6 63.2h0M1083.1 76.9h0M1092.2 40.3h0M1115.1 90.6h0M1156.1 191.3h0M1160.7 35.7h0M1160.7 113.5h0M1160.7 122.7h0M1165.3 118.1h0M1165.3 122.7h0M1169.8 127.2h0M1188.1 76.9h0M1192.7 72.3h0M1210.9 173.0h0M1215.5 159.3h0M1215.5 173.0h0M1247.4 44.9h0M1265.7 127.2h0M1293.1 72.3h0M1306.8 168.4h0M1311.3 163.9h0M1315.9 72.3h0M1338.7 35.7h0M1343.3 118.1h0M1343.3 122.7h0M1343.3 131.8h0M1347.9 35.7h0M1393.5 44.9h0M1525.9 40.3h0"/><path stroke="#bddf26" d="M1019.2 63.2h0M1019.2 67.7h0M1019.2 72.3h0M1019.2 118.1h0M1019.2 173.0h0M1019.2 182.2h0M1019.2 186.7h0M1019.2 191.3h0M1019.2 195.9h0M1019.2 200.5h0M1019.2 205.0h0M1019.2 209.6h0M1023.8 63.2h0M1023.8 67.7h0M1023.8 177.6h0M1023.8 195.9h0M1023.8 205.0h0M1023.8 209.6h0M1028.3 44.9h0M1028.3 191.3h0M1028.3 195.9h0M1028.3 200.5h0M1028.3 209.6h0M1032.9 205.0h0M1032.9 209.6h0M1042.0 136.4h0M1060.3 35.7h0M1060.3 131.8h0M1064.8 35.7h0M1064.8 127.2h0M1064.8 177.6h0M1069.4 35.7h0M1069.4 122.7h0M1069.4 127.2h0M1069.4 131.8h0M1074.0 35.7h0M1074.0 67.7h0M1074.0 122.7h0M1074.0 127.2h0M1078.5 35.7h0M1078.5 122.7h0M1083.1 35.7h0M1083.1 90.6h0M1087.7 35.7h0M1087.7 40.3h0M1087.7 159.3h0M1092.2 182.2h0M1096.8 113.5h0M1105.9 86.0h0M1110.5 86.0h0M1110.5 90.6h0M1110.5 95.2h0M1110.5 200.5h0M1115.1 86.0h0M1115.1 173.0h0M1119.6 58.6h0M1119.6 81.5h0M1119.6 86.0h0M1119.6 90.6h0M1124.2 81.5h0M1124.2 86.0h0M1137.9 177.6h0M1142.5 99.8h0M1156.1 113.5h0M1156.1 168.4h0M1160.7 40.3h0M1160.7 118.1h0M1165.3 35.7h0M1165.3 40.3h0M1165.3 76.9h0M1165.3 113.5h0M1165.3 127.2h0M1169.8 40.3h0M1174.4 35.7h0M1174.4 40.3h0M1179.0 168.4h0M1188.1 72.3h0M1188.1 122.7h0M1201.8 214.2h0M1206.4 182.2h0M1210.9 40.3h0M1210.9 159.3h0M1210.9 163.9h0M1210.9 168.4h0M1210.9 177.6h0M1210.9 182.2h0M1215.5 163.9h0M1215.5 168.4h0M1215.5 177.6h0M1224.6 127.2h0M1233.7 35.7h0M1233.7 40.3h0M1233.7 44.9h0M1238.3 35.7h0M1238.3 40.3h0M1238.3 44.9h0M1242.9 35.7h0M1242.9 40.3h0M1242.9 44.9h0M1247.4 35.7h0M1247.4 40.3h0M1252.0 35.7h0M1252.0 40.3h0M1252.0 108.9h0M1256.6 58.6h0M1256.6 86.0h0M1270.3 127.2h0M1270.3 150.1h0M1274.8 127.2h0M1279.4 104.4h0M1293.1 195.9h0M1302.2 49.4h0M1302.2 63.2h0M1306.8 63.2h0M1306.8 72.3h0M1306.8 163.9h0M1306.8 173.0h0M1311.3 168.4h0M1311.3 173.0h0M1311.3 177.6h0M1315.9 163.9h0M1315.9 168.4h0M1315.9 173.0h0M1315.9 177.6h0M1325.0 95.2h0M1325.0 214.2h0M1334.2 35.7h0M1338.7 182.2h0M1343.3 35.7h0M1361.6 159.3h0M1370.7 118.1h0M1384.4 205.0h0M1393.5 163.9h0M1393.5 168.4h0M1407.2 131.8h0M1416.3 90.6h0M1420.9 214.2h0M1430.0 177.6h0M1439.2 67.7h0M1452.9 154.7h0M1462.0 108.9h0M1484.8 54.0h0M1516.8 35.7h0M1521.3 35.7h0M1521.3 40.3h0M1525.9 35.7h0M1530.5 35.7h0M1535.0 35.7h0"/></g><g clip-path="url(#cpD)" stroke-linecap="round" stroke-width="5.00" fill="none"><path stroke="#1e9c89" d="M1653.7 397.3h0M1722.2 360.7h0M1726.7 369.8h0M1813.5 360.7h0"/><path stroke="#1f968b" d="M1023.8 296.6h0M1023.8 301.2h0M1028.3 287.4h0M1028.3 292.0h0M1028.3 296.6h0M1028.3 301.2h0M1028.3 310.3h0M1032.9 282.9h0M1032.9 310.3h0M1032.9 314.9h0M1037.5 282.9h0M1042.0 278.3h0M1042.0 282.9h0M1042.0 314.9h0M1046.6 278.3h0M1046.6 314.9h0M1051.2 278.3h0M1051.2 282.9h0M1051.2 314.9h0M1055.7 278.3h0M1055.7 282.9h0M1060.3 282.9h0M1060.3 310.3h0M1064.8 287.4h0M1064.8 292.0h0M1064.8 305.8h0M1105.9 337.8h0M1105.9 342.4h0M1105.9 346.9h0M1105.9 351.5h0M1105.9 356.1h0M1110.5 333.2h0M1110.5 337.8h0M1110.5 356.1h0M1110.5 360.7h0M1119.6 324.1h0M1119.6 360.7h0M1124.2 324.1h0M1128.8 324.1h0M1133.3 324.1h0M1137.9 324.1h0M1137.9 360.7h0M1142.5 324.1h0M1142.5 360.7h0M1147.0 328.6h0M1147.0 351.5h0M1147.0 356.1h0M1151.6 333.2h0M1151.6 337.8h0M1151.6 351.5h0M1197.2 292.0h0M1197.2 296.6h0M1201.8 278.3h0M1206.4 310.3h0M1210.9 273.7h0M1210.9 310.3h0M1215.5 273.7h0M1215.5 310.3h0M1220.1 273.7h0M1220.1 310.3h0M1220.1 388.1h0M1220.1 392.7h0M1224.6 273.7h0M1224.6 310.3h0M1224.6 388.1h0M1224.6 392.7h0M1229.2 383.6h0M1233.7 282.9h0M1233.7 305.8h0M1233.7 383.6h0M1238.3 282.9h0M1238.3 287.4h0M1238.3 292.0h0M1238.3 296.6h0M1238.3 301.2h0M1242.9 383.6h0M1247.4 383.6h0M1252.0 388.1h0M1252.0 415.6h0M1256.6 401.9h0M1256.6 406.4h0M1256.6 411.0h0M1256.6 415.6h0M1293.1 319.5h0M1293.1 337.8h0M1293.1 342.4h0M1297.7 310.3h0M1297.7 337.8h0M1297.7 342.4h0M1302.2 310.3h0M1306.8 305.8h0M1306.8 310.3h0M1311.3 305.8h0M1311.3 310.3h0M1315.9 310.3h0M1320.5 310.3h0M1320.5 346.9h0M1325.0 342.4h0M1329.6 314.9h0M1329.6 319.5h0M1329.6 324.1h0M1329.6 337.8h0M1722.2 356.1h0M1726.7 333.2h0M1726.7 337.8h0M1735.9 319.5h0M1749.6 310.3h0M1749.6 388.1h0M1754.1 273.7h0M1781.5 305.8h0M1781.5 310.3h0M1795.2 314.9h0M1799.8 314.9h0"/><path stroke="#1fa287" d="M1717.6 337.8h0M1717.6 342.4h0M1717.6 346.9h0M1722.2 365.3h0M1836.3 406.4h0M1845.4 342.4h0M1850.0 342.4h0M1872.8 305.8h0M1895.6 282.9h0"/><path stroke="#21918c" d="M1726.7 365.3h0"/><path stroke="#22a884" d="M1498.5 292.0h0M1713.1 324.1h0M1717.6 333.2h0M1722.2 369.8h0M1726.7 374.4h0M1840.9 369.8h0M1845.4 292.0h0M1850.0 328.6h0M1850.0 337.8h0M1854.6 328.6h0M1859.1 342.4h0M1891.1 237.1h0M1904.8 369.8h0M1918.5 324.1h0M1923.0 250.8h0M1927.6 415.6h0"/><path stroke="#238a8d" d="M1790.7 383.6h0"/><path stroke="#25848e" d="M1224.6 397.3h0M1238.3 383.6h0M1726.7 360.7h0M1735.9 324.1h0M1754.1 310.3h0M1758.7 310.3h0M1763.3 310.3h0M1767.8 310.3h0M1772.4 310.3h0M1777.0 310.3h0M1795.2 319.5h0M1799.8 319.5h0"/><path stroke="#277e8e" d="M1749.6 383.6h0M1767.8 388.1h0"/><path stroke="#28ae80" d="M1493.9 292.0h0M1516.8 392.7h0M1621.8 264.6h0M1630.9 356.1h0M1694.8 328.6h0M1699.4 333.2h0M1699.4 337.8h0M1717.6 237.1h0M1722.2 374.4h0M1758.7 246.3h0M1767.8 406.4h0M1790.7 411.0h0M1804.3 411.0h0M1808.9 401.9h0M1808.9 406.4h0M1808.9 411.0h0M1845.4 328.6h0M1845.4 337.8h0M1845.4 346.9h0M1850.0 260.0h0M1850.0 333.2h0M1850.0 346.9h0M1854.6 337.8h0M1854.6 346.9h0M1882.0 392.7h0"/><path stroke="#2a788e" d="M1726.7 356.1h0"/><path stroke="#2c728e" d="M1229.2 388.1h0M1229.2 392.7h0M1229.2 397.3h0M1233.7 388.1h0M1233.7 392.7h0M1238.3 415.6h0M1242.9 411.0h0M1242.9 415.6h0M1247.4 388.1h0M1247.4 392.7h0M1247.4 397.3h0M1247.4 401.9h0M1247.4 411.0h0M1247.4 415.6h0M1252.0 401.9h0M1252.0 406.4h0M1731.3 365.3h0M1745.0 379.0h0M1754.1 383.6h0"/><path stroke="#2f6c8e" d="M1032.9 301.2h0M1032.9 305.8h0M1037.5 287.4h0M1037.5 292.0h0M1037.5 305.8h0M1037.5 310.3h0M1042.0 296.6h0M1042.0 301.2h0M1042.0 305.8h0M1046.6 301.2h0M1046.6 305.8h0M1046.6 310.3h0M1051.2 287.4h0M1051.2 292.0h0M1051.2 301.2h0M1055.7 287.4h0M1055.7 305.8h0M1055.7 310.3h0M1060.3 301.2h0M1060.3 305.8h0M1110.5 342.4h0M1110.5 346.9h0M1110.5 351.5h0M1115.1 333.2h0M1115.1 346.9h0M1115.1 356.1h0M1119.6 328.6h0M1119.6 333.2h0M1119.6 337.8h0M1119.6 342.4h0M1119.6 346.9h0M1119.6 351.5h0M1124.2 328.6h0M1124.2 333.2h0M1124.2 346.9h0M1124.2 360.7h0M1128.8 356.1h0M1128.8 360.7h0M1133.3 328.6h0M1133.3 346.9h0M1133.3 356.1h0M1133.3 360.7h0M1137.9 328.6h0M1137.9 356.1h0M1142.5 328.6h0M1142.5 337.8h0M1142.5 342.4h0M1142.5 346.9h0M1142.5 351.5h0M1142.5 356.1h0M1147.0 333.2h0M1147.0 337.8h0M1147.0 342.4h0M1147.0 346.9h0M1206.4 305.8h0M1210.9 292.0h0M1210.9 296.6h0M1210.9 305.8h0M1215.5 278.3h0M1215.5 301.2h0M1215.5 305.8h0M1220.1 282.9h0M1220.1 301.2h0M1220.1 305.8h0M1224.6 278.3h0M1224.6 282.9h0M1224.6 301.2h0M1224.6 305.8h0M1229.2 278.3h0M1229.2 282.9h0M1229.2 301.2h0M1229.2 305.8h0M1233.7 278.3h0M1233.7 287.4h0M1233.7 301.2h0M1297.7 314.9h0M1297.7 319.5h0M1297.7 324.1h0M1297.7 328.6h0M1302.2 314.9h0M1302.2 319.5h0M1302.2 324.1h0M1302.2 328.6h0M1302.2 346.9h0M1306.8 314.9h0M1306.8 324.1h0M1306.8 328.6h0M1306.8 342.4h0M1306.8 346.9h0M1311.3 314.9h0M1311.3 319.5h0M1311.3 342.4h0M1311.3 346.9h0M1315.9 314.9h0M1315.9 319.5h0M1315.9 333.2h0M1315.9 337.8h0M1315.9 342.4h0M1315.9 346.9h0M1320.5 337.8h0M1320.5 342.4h0M1325.0 314.9h0M1731.3 328.6h0M1731.3 333.2h0M1731.3 337.8h0M1735.9 328.6h0M1735.9 333.2h0M1735.9 337.8h0M1740.4 328.6h0M1749.6 314.9h0M1754.1 314.9h0M1758.7 314.9h0M1758.7 383.6h0M1763.3 314.9h0M1767.8 314.9h0M1781.5 314.9h0M1795.2 324.1h0"/><path stroke="#2fb47c" d="M1023.8 305.8h0M1055.7 314.9h0M1064.8 282.9h0M1069.4 296.6h0M1115.1 324.1h0M1124.2 319.5h0M1128.8 319.5h0M1128.8 365.3h0M1133.3 365.3h0M1197.2 278.3h0M1197.2 282.9h0M1201.8 305.8h0M1215.5 269.1h0M1215.5 397.3h0M1229.2 273.7h0M1229.2 310.3h0M1233.7 379.0h0M1238.3 278.3h0M1242.9 292.0h0M1242.9 296.6h0M1256.6 388.1h0M1293.1 314.9h0M1293.1 346.9h0M1320.5 305.8h0M1325.0 310.3h0M1325.0 346.9h0M1329.6 342.4h0M1475.7 401.9h0M1489.4 415.6h0M1493.9 406.4h0M1503.1 305.8h0M1507.6 411.0h0M1516.8 310.3h0M1516.8 319.5h0M1553.3 273.7h0M1557.8 269.1h0M1557.8 278.3h0M1585.2 333.2h0M1608.1 374.4h0M1690.2 296.6h0M1690.2 342.4h0M1690.2 415.6h0M1694.8 319.5h0M1694.8 324.1h0M1694.8 346.9h0M1694.8 388.1h0M1694.8 415.6h0M1699.4 324.1h0M1699.4 328.6h0M1699.4 342.4h0M1699.4 346.9h0M1699.4 388.1h0M1703.9 319.5h0M1703.9 324.1h0M1703.9 337.8h0M1703.9 342.4h0M1703.9 411.0h0M1708.5 319.5h0M1708.5 411.0h0M1713.1 278.3h0M1713.1 328.6h0M1713.1 333.2h0M1713.1 337.8h0M1713.1 342.4h0M1713.1 346.9h0M1717.6 324.1h0M1717.6 415.6h0M1722.2 241.7h0M1735.9 287.4h0M1735.9 314.9h0M1740.4 269.1h0M1740.4 282.9h0M1745.0 278.3h0M1745.0 282.9h0M1745.0 310.3h0M1745.0 411.0h0M1749.6 278.3h0M1749.6 282.9h0M1749.6 287.4h0M1749.6 292.0h0M1749.6 296.6h0M1749.6 301.2h0M1749.6 305.8h0M1754.1 264.6h0M1754.1 269.1h0M1754.1 278.3h0M1754.1 287.4h0M1754.1 292.0h0M1754.1 296.6h0M1754.1 301.2h0M1754.1 305.8h0M1758.7 292.0h0M1758.7 301.2h0M1758.7 305.8h0M1763.3 273.7h0M1763.3 301.2h0M1763.3 305.8h0M1767.8 305.8h0M1772.4 301.2h0M1772.4 305.8h0M1777.0 287.4h0M1777.0 292.0h0M1777.0 296.6h0M1777.0 301.2h0M1777.0 305.8h0M1781.5 287.4h0M1781.5 292.0h0M1781.5 296.6h0M1781.5 301.2h0M1795.2 310.3h0M1799.8 305.8h0M1799.8 310.3h0M1804.3 269.1h0M1804.3 292.0h0M1804.3 296.6h0M1804.3 301.2h0M1804.3 305.8h0M1804.3 319.5h0M1808.9 292.0h0M1808.9 296.6h0M1808.9 301.2h0M1813.5 292.0h0M1813.5 296.6h0M1818.0 292.0h0M1822.6 287.4h0M1822.6 292.0h0M1827.2 282.9h0M1827.2 287.4h0M1827.2 314.9h0M1831.7 282.9h0M1831.7 287.4h0M1836.3 287.4h0"/><path stroke="#31668e" d="M1731.3 360.7h0M1749.6 379.0h0"/><path stroke="#355f8d" d="M1731.3 356.1h0M1745.0 374.4h0"/><path stroke="#38598c" d="M1754.1 379.0h0"/><path stroke="#38b977" d="M1471.1 401.9h0M1484.8 415.6h0M1493.9 296.6h0M1493.9 346.9h0M1493.9 415.6h0M1498.5 296.6h0M1498.5 301.2h0M1498.5 305.8h0M1498.5 406.4h0M1498.5 415.6h0M1503.1 301.2h0M1503.1 406.4h0M1503.1 415.6h0M1507.6 305.8h0M1507.6 310.3h0M1507.6 314.9h0M1507.6 406.4h0M1512.2 314.9h0M1539.6 369.8h0M1553.3 324.1h0M1557.8 273.7h0M1562.4 278.3h0M1562.4 411.0h0M1567.0 273.7h0M1567.0 282.9h0M1576.1 241.7h0M1598.9 287.4h0M1608.1 237.1h0M1644.6 310.3h0M1667.4 255.4h0M1676.5 342.4h0"/><path stroke="#3b528b" d="M1731.3 342.4h0M1754.1 319.5h0M1758.7 319.5h0M1763.3 319.5h0M1763.3 379.0h0M1767.8 337.8h0M1795.2 328.6h0M1795.2 333.2h0M1795.2 337.8h0M1799.8 328.6h0M1799.8 333.2h0M1799.8 337.8h0M1804.3 333.2h0M1804.3 337.8h0"/><path stroke="#3e4a89" d="M1745.0 369.8h0M1754.1 374.4h0"/><path stroke="#414487" d="M1735.9 342.4h0M1749.6 369.8h0M1754.1 369.8h0M1758.7 369.8h0M1758.7 374.4h0M1763.3 369.8h0M1763.3 374.4h0M1790.7 360.7h0M1795.2 351.5h0"/><path stroke="#44bf70" d="M1493.9 301.2h0M1503.1 314.9h0M1530.5 278.3h0"/><path stroke="#50c46a" d="M1019.2 287.4h0M1023.8 282.9h0M1023.8 287.4h0M1028.3 282.9h0M1028.3 314.9h0M1032.9 278.3h0M1037.5 278.3h0M1060.3 314.9h0M1064.8 310.3h0M1069.4 282.9h0M1069.4 287.4h0M1069.4 292.0h0M1069.4 305.8h0M1069.4 310.3h0M1074.0 305.8h0M1078.5 287.4h0M1096.8 314.9h0M1101.4 342.4h0M1101.4 346.9h0M1101.4 351.5h0M1101.4 356.1h0M1105.9 360.7h0M1110.5 324.1h0M1110.5 328.6h0M1110.5 365.3h0M1115.1 319.5h0M1115.1 365.3h0M1119.6 319.5h0M1119.6 365.3h0M1133.3 319.5h0M1137.9 365.3h0M1142.5 365.3h0M1142.5 369.8h0M1142.5 383.6h0M1147.0 360.7h0M1147.0 365.3h0M1147.0 383.6h0M1147.0 388.1h0M1151.6 324.1h0M1151.6 356.1h0M1151.6 383.6h0M1151.6 388.1h0M1156.1 328.6h0M1156.1 333.2h0M1156.1 346.9h0M1156.1 351.5h0M1156.1 356.1h0M1156.1 369.8h0M1156.1 379.0h0M1156.1 383.6h0M1156.1 388.1h0M1160.7 333.2h0M1160.7 346.9h0M1160.7 379.0h0M1160.7 383.6h0M1160.7 388.1h0M1169.8 328.6h0M1169.8 337.8h0M1188.1 324.1h0M1192.7 278.3h0M1192.7 282.9h0M1192.7 292.0h0M1192.7 301.2h0M1197.2 273.7h0M1197.2 305.8h0M1201.8 310.3h0M1210.9 269.1h0M1210.9 397.3h0M1210.9 401.9h0M1215.5 383.6h0M1215.5 388.1h0M1215.5 392.7h0M1215.5 406.4h0M1220.1 255.4h0M1220.1 269.1h0M1220.1 383.6h0M1224.6 255.4h0M1224.6 269.1h0M1224.6 383.6h0M1229.2 269.1h0M1229.2 379.0h0M1233.7 273.7h0M1233.7 310.3h0M1238.3 305.8h0M1238.3 379.0h0M1242.9 273.7h0M1242.9 278.3h0M1242.9 282.9h0M1242.9 287.4h0M1242.9 301.2h0M1247.4 282.9h0M1247.4 287.4h0M1247.4 292.0h0M1247.4 319.5h0M1252.0 319.5h0M1252.0 383.6h0M1261.1 324.1h0M1261.1 328.6h0M1261.1 333.2h0M1261.1 379.0h0M1261.1 383.6h0M1261.1 388.1h0M1261.1 392.7h0M1261.1 406.4h0M1261.1 411.0h0M1261.1 415.6h0M1265.7 333.2h0M1265.7 379.0h0M1265.7 383.6h0M1265.7 392.7h0M1265.7 397.3h0M1265.7 411.0h0M1265.7 415.6h0M1284.0 333.2h0M1284.0 337.8h0M1284.0 342.4h0M1288.5 314.9h0M1288.5 319.5h0M1288.5 346.9h0M1293.1 305.8h0M1293.1 310.3h0M1297.7 305.8h0M1297.7 351.5h0M1311.3 351.5h0M1311.3 356.1h0M1315.9 351.5h0M1315.9 356.1h0M1320.5 351.5h0M1325.0 305.8h0M1325.0 351.5h0M1329.6 305.8h0M1329.6 346.9h0M1334.2 319.5h0M1334.2 324.1h0M1334.2 342.4h0M1334.2 346.9h0M1338.7 314.9h0M1338.7 319.5h0M1338.7 324.1h0M1338.7 328.6h0M1338.7 337.8h0M1343.3 319.5h0M1343.3 324.1h0M1343.3 328.6h0M1343.3 333.2h0M1343.3 342.4h0M1347.9 337.8h0"/><path stroke="#5ec962" d="M1156.1 237.1h0M1448.3 415.6h0"/><path stroke="#6ccd5a" d="M1475.7 365.3h0"/><path stroke="#7ad151" d="M1489.4 310.3h0"/><path stroke="#9bd93c" d="M1201.8 415.6h0M1206.4 383.6h0M1210.9 383.6h0M1210.9 388.1h0M1229.2 374.4h0M1247.4 374.4h0M1256.6 379.0h0M1265.7 374.4h0M1265.7 388.1h0M1270.3 388.1h0M1274.8 383.6h0M1274.8 388.1h0M1325.0 415.6h0M1443.7 415.6h0M1457.4 305.8h0M1498.5 287.4h0M1539.6 241.7h0"/><path stroke="#addc30" d="M1019.2 282.9h0M1019.2 374.4h0M1019.2 388.1h0M1023.8 310.3h0M1023.8 314.9h0M1023.8 397.3h0M1028.3 383.6h0M1028.3 388.1h0M1028.3 406.4h0M1028.3 415.6h0M1032.9 319.5h0M1032.9 337.8h0M1037.5 273.7h0M1037.5 319.5h0M1037.5 328.6h0M1042.0 273.7h0M1042.0 319.5h0M1046.6 273.7h0M1046.6 319.5h0M1046.6 324.1h0M1046.6 328.6h0M1051.2 273.7h0M1051.2 319.5h0M1055.7 273.7h0M1060.3 269.1h0M1060.3 319.5h0M1060.3 328.6h0M1060.3 333.2h0M1064.8 269.1h0M1064.8 273.7h0M1064.8 278.3h0M1064.8 319.5h0M1064.8 324.1h0M1064.8 328.6h0M1069.4 237.1h0M1069.4 273.7h0M1069.4 278.3h0M1069.4 324.1h0M1069.4 328.6h0M1069.4 333.2h0M1074.0 237.1h0M1074.0 273.7h0M1074.0 278.3h0M1074.0 282.9h0M1074.0 324.1h0M1074.0 328.6h0M1078.5 237.1h0M1078.5 273.7h0M1078.5 278.3h0M1078.5 324.1h0M1083.1 278.3h0M1083.1 292.0h0M1083.1 296.6h0M1087.7 292.0h0M1087.7 296.6h0M1087.7 356.1h0M1087.7 360.7h0M1087.7 365.3h0M1092.2 337.8h0M1092.2 356.1h0M1092.2 360.7h0M1092.2 383.6h0M1096.8 319.5h0M1096.8 333.2h0M1096.8 337.8h0M1096.8 342.4h0M1096.8 383.6h0M1101.4 314.9h0M1101.4 328.6h0M1101.4 337.8h0M1101.4 360.7h0M1101.4 383.6h0M1105.9 314.9h0M1105.9 328.6h0M1105.9 383.6h0M1110.5 292.0h0M1110.5 319.5h0M1115.1 282.9h0M1115.1 287.4h0M1115.1 292.0h0M1119.6 292.0h0M1119.6 369.8h0M1124.2 314.9h0M1124.2 369.8h0M1124.2 374.4h0M1128.8 310.3h0M1128.8 314.9h0M1128.8 369.8h0M1133.3 310.3h0M1133.3 314.9h0M1133.3 369.8h0M1137.9 369.8h0M1137.9 374.4h0M1142.5 319.5h0M1147.0 314.9h0M1147.0 319.5h0M1147.0 379.0h0M1147.0 392.7h0M1151.6 319.5h0M1151.6 360.7h0M1151.6 379.0h0M1151.6 392.7h0M1156.1 324.1h0M1156.1 392.7h0M1160.7 237.1h0M1160.7 314.9h0M1160.7 319.5h0M1160.7 324.1h0M1160.7 328.6h0M1160.7 392.7h0M1165.3 237.1h0M1165.3 278.3h0M1165.3 314.9h0M1165.3 324.1h0M1165.3 333.2h0M1165.3 342.4h0M1165.3 365.3h0M1165.3 369.8h0M1165.3 379.0h0M1169.8 241.7h0M1169.8 342.4h0M1169.8 365.3h0M1169.8 369.8h0M1174.4 237.1h0M1179.0 369.8h0M1183.5 292.0h0M1183.5 296.6h0M1183.5 301.2h0M1188.1 287.4h0M1188.1 292.0h0M1188.1 296.6h0M1188.1 301.2h0M1197.2 310.3h0M1197.2 319.5h0M1197.2 324.1h0M1197.2 328.6h0M1201.8 319.5h0M1201.8 324.1h0M1201.8 328.6h0M1206.4 314.9h0M1206.4 319.5h0M1206.4 324.1h0M1206.4 328.6h0M1206.4 333.2h0M1210.9 264.6h0M1210.9 314.9h0M1210.9 319.5h0M1210.9 328.6h0M1215.5 250.8h0M1215.5 264.6h0M1215.5 314.9h0M1220.1 260.0h0M1220.1 264.6h0M1220.1 314.9h0M1224.6 260.0h0M1224.6 314.9h0M1224.6 319.5h0M1224.6 324.1h0M1229.2 264.6h0M1229.2 314.9h0M1229.2 319.5h0M1229.2 324.1h0M1238.3 241.7h0M1247.4 273.7h0M1247.4 278.3h0M1247.4 301.2h0M1247.4 305.8h0M1252.0 287.4h0M1252.0 305.8h0M1252.0 310.3h0M1252.0 314.9h0M1252.0 324.1h0M1256.6 287.4h0M1256.6 292.0h0M1256.6 310.3h0M1256.6 314.9h0M1261.1 287.4h0M1261.1 292.0h0M1261.1 310.3h0M1261.1 319.5h0M1261.1 337.8h0M1265.7 319.5h0M1265.7 324.1h0M1265.7 328.6h0M1265.7 337.8h0M1265.7 342.4h0M1270.3 314.9h0M1270.3 324.1h0M1270.3 328.6h0M1270.3 333.2h0M1270.3 337.8h0M1270.3 342.4h0M1270.3 346.9h0M1270.3 351.5h0M1274.8 328.6h0M1274.8 346.9h0M1279.4 305.8h0M1279.4 346.9h0M1279.4 351.5h0M1284.0 310.3h0M1284.0 314.9h0M1284.0 319.5h0M1284.0 346.9h0M1284.0 351.5h0M1288.5 305.8h0M1293.1 273.7h0M1293.1 292.0h0M1293.1 351.5h0M1293.1 397.3h0M1297.7 292.0h0M1297.7 356.1h0M1297.7 360.7h0M1302.2 292.0h0M1302.2 356.1h0M1302.2 360.7h0M1306.8 273.7h0M1306.8 278.3h0M1306.8 356.1h0M1311.3 278.3h0M1311.3 296.6h0M1311.3 379.0h0M1315.9 273.7h0M1315.9 301.2h0M1315.9 369.8h0M1320.5 296.6h0M1320.5 301.2h0M1320.5 356.1h0M1325.0 282.9h0M1325.0 287.4h0M1325.0 292.0h0M1325.0 296.6h0M1325.0 301.2h0M1325.0 356.1h0M1329.6 287.4h0M1329.6 292.0h0M1329.6 301.2h0M1329.6 351.5h0M1329.6 356.1h0M1334.2 351.5h0M1334.2 356.1h0M1361.6 360.7h0M1384.4 406.4h0M1416.3 292.0h0M1457.4 255.4h0M1457.4 314.9h0M1457.4 333.2h0M1466.6 264.6h0M1484.8 255.4h0M1484.8 305.8h0M1489.4 314.9h0M1516.8 241.7h0M1535.0 241.7h0M1539.6 237.1h0"/><path stroke="#bddf26" d="M1019.2 379.0h0M1019.2 392.7h0M1019.2 397.3h0M1019.2 406.4h0M1019.2 411.0h0M1019.2 415.6h0M1023.8 374.4h0M1023.8 379.0h0M1023.8 383.6h0M1023.8 388.1h0M1023.8 392.7h0M1023.8 401.9h0M1028.3 246.3h0M1028.3 379.0h0M1028.3 392.7h0M1028.3 397.3h0M1028.3 411.0h0M1032.9 406.4h0M1032.9 411.0h0M1032.9 415.6h0M1064.8 237.1h0M1064.8 379.0h0M1087.7 237.1h0M1092.2 237.1h0M1092.2 241.7h0M1105.9 287.4h0M1110.5 287.4h0M1119.6 260.0h0M1119.6 282.9h0M1124.2 282.9h0M1124.2 287.4h0M1169.8 237.1h0M1174.4 241.7h0M1210.9 241.7h0M1210.9 246.3h0M1210.9 250.8h0M1238.3 246.3h0M1242.9 237.1h0M1242.9 241.7h0M1242.9 246.3h0M1247.4 237.1h0M1247.4 241.7h0M1252.0 237.1h0M1252.0 241.7h0M1252.0 246.3h0M1302.2 250.8h0M1302.2 264.6h0M1302.2 365.3h0M1306.8 264.6h0M1306.8 369.8h0M1306.8 374.4h0M1311.3 365.3h0M1311.3 374.4h0M1315.9 365.3h0M1315.9 379.0h0M1338.7 237.1h0M1338.7 383.6h0M1343.3 237.1h0M1347.9 237.1h0M1370.7 319.5h0M1379.8 287.4h0M1384.4 282.9h0M1389.0 282.9h0M1393.5 246.3h0M1393.5 365.3h0M1393.5 369.8h0M1407.2 333.2h0M1420.9 415.6h0M1425.5 415.6h0M1430.0 379.0h0M1430.0 415.6h0M1434.6 415.6h0M1439.2 269.1h0M1439.2 324.1h0M1439.2 415.6h0M1452.9 237.1h0M1452.9 305.8h0M1452.9 310.3h0M1452.9 356.1h0M1457.4 260.0h0M1457.4 264.6h0M1462.0 255.4h0M1462.0 260.0h0M1462.0 305.8h0M1462.0 310.3h0M1466.6 260.0h0M1466.6 310.3h0M1466.6 328.6h0M1471.1 264.6h0M1471.1 314.9h0M1471.1 319.5h0M1471.1 324.1h0M1475.7 324.1h0M1484.8 310.3h0M1516.8 237.1h0M1521.3 241.7h0M1525.9 237.1h0M1525.9 241.7h0M1530.5 237.1h0M1530.5 241.7h0M1535.0 237.1h0"/><path stroke="#dfe318" d="M1019.2 269.1h0M1019.2 273.7h0M1019.2 319.5h0M1019.2 337.8h0M1023.8 264.6h0M1023.8 269.1h0M1023.8 273.7h0M1028.3 269.1h0M1028.3 342.4h0M1037.5 333.2h0M1042.0 337.8h0M1046.6 264.6h0M1046.6 333.2h0M1055.7 264.6h0M1055.7 269.1h0M1060.3 273.7h0M1069.4 314.9h0M1069.4 319.5h0M1074.0 269.1h0M1105.9 365.3h0M1105.9 369.8h0M1110.5 369.8h0M1110.5 374.4h0M1115.1 305.8h0M1115.1 310.3h0M1115.1 314.9h0M1115.1 374.4h0M1115.1 379.0h0M1119.6 305.8h0M1119.6 310.3h0M1119.6 314.9h0M1119.6 374.4h0M1119.6 379.0h0M1124.2 305.8h0M1124.2 310.3h0M1124.2 379.0h0M1124.2 383.6h0M1133.3 374.4h0M1137.9 301.2h0M1137.9 305.8h0M1137.9 310.3h0M1137.9 314.9h0M1137.9 379.0h0M1142.5 301.2h0M1142.5 305.8h0M1142.5 310.3h0M1142.5 314.9h0M1165.3 319.5h0M1210.9 260.0h0M1210.9 360.7h0M1210.9 365.3h0M1210.9 369.8h0M1210.9 374.4h0M1210.9 379.0h0M1215.5 319.5h0M1215.5 360.7h0M1215.5 365.3h0M1215.5 369.8h0M1215.5 374.4h0M1215.5 379.0h0M1220.1 319.5h0M1220.1 374.4h0M1220.1 379.0h0M1224.6 328.6h0M1247.4 269.1h0M1256.6 260.0h0M1261.1 314.9h0M1265.7 314.9h0M1288.5 292.0h0M1288.5 301.2h0M1293.1 296.6h0M1293.1 301.2h0M1297.7 296.6h0M1297.7 301.2h0M1302.2 296.6h0M1302.2 301.2h0M1306.8 282.9h0M1306.8 296.6h0M1320.5 287.4h0M1347.9 273.7h0"/></g><g clip-path="url(#cpF)" stroke-linecap="round" stroke-width="5.00" fill="none"><path stroke="#1e9c89" d="M1653.7 599.0h0M1886.5 594.4h0"/><path stroke="#1f968b" d="M1023.8 493.9h0M1023.8 498.4h0M1023.8 503.0h0M1023.8 507.6h0M1028.3 489.3h0M1028.3 493.9h0M1028.3 498.4h0M1028.3 503.0h0M1028.3 512.1h0M1032.9 484.7h0M1032.9 489.3h0M1032.9 516.7h0M1037.5 484.7h0M1037.5 516.7h0M1042.0 480.1h0M1042.0 484.7h0M1042.0 516.7h0M1046.6 480.1h0M1046.6 516.7h0M1051.2 480.1h0M1051.2 484.7h0M1051.2 516.7h0M1055.7 480.1h0M1055.7 484.7h0M1060.3 484.7h0M1060.3 512.1h0M1064.8 489.3h0M1064.8 493.9h0M1064.8 507.6h0M1105.9 539.6h0M1105.9 544.2h0M1105.9 548.7h0M1105.9 553.3h0M1105.9 557.9h0M1110.5 535.0h0M1110.5 539.6h0M1110.5 557.9h0M1110.5 562.4h0M1119.6 525.9h0M1119.6 562.4h0M1124.2 525.9h0M1128.8 525.9h0M1133.3 525.9h0M1137.9 525.9h0M1137.9 562.4h0M1142.5 525.9h0M1142.5 562.4h0M1147.0 530.4h0M1147.0 553.3h0M1147.0 557.9h0M1151.6 535.0h0M1151.6 539.6h0M1151.6 553.3h0M1197.2 493.9h0M1197.2 498.4h0M1197.2 503.0h0M1201.8 480.1h0M1201.8 484.7h0M1201.8 498.4h0M1201.8 507.6h0M1206.4 480.1h0M1206.4 507.6h0M1206.4 512.1h0M1210.9 475.6h0M1210.9 512.1h0M1215.5 475.6h0M1215.5 512.1h0M1220.1 475.6h0M1220.1 512.1h0M1220.1 608.2h0M1220.1 612.7h0M1224.6 475.6h0M1224.6 512.1h0M1224.6 589.9h0M1224.6 594.4h0M1224.6 617.3h0M1229.2 480.1h0M1229.2 507.6h0M1229.2 585.3h0M1233.7 480.1h0M1233.7 484.7h0M1233.7 507.6h0M1233.7 585.3h0M1238.3 484.7h0M1238.3 489.3h0M1238.3 493.9h0M1238.3 498.4h0M1238.3 503.0h0M1247.4 585.3h0M1252.0 589.9h0M1252.0 617.3h0M1256.6 603.6h0M1256.6 608.2h0M1256.6 612.7h0M1256.6 617.3h0M1288.5 535.0h0M1293.1 521.3h0M1293.1 535.0h0M1293.1 539.6h0M1293.1 544.2h0M1297.7 512.1h0M1302.2 512.1h0M1306.8 507.6h0M1311.3 507.6h0M1315.9 507.6h0M1320.5 512.1h0M1320.5 548.7h0M1325.0 544.2h0M1329.6 516.7h0M1329.6 521.3h0M1329.6 525.9h0M1329.6 530.4h0M1329.6 535.0h0M1329.6 539.6h0M1717.6 548.7h0M1722.2 548.7h0M1722.2 557.9h0M1722.2 562.4h0M1726.7 503.0h0M1726.7 525.9h0M1726.7 530.4h0M1726.7 535.0h0M1726.7 539.6h0M1726.7 567.0h0M1731.3 521.3h0M1731.3 571.6h0M1731.3 576.2h0M1735.9 521.3h0M1735.9 585.3h0M1735.9 589.9h0M1740.4 516.7h0M1740.4 585.3h0M1745.0 516.7h0M1745.0 585.3h0M1749.6 512.1h0M1749.6 599.0h0M1754.1 512.1h0M1754.1 599.0h0M1758.7 589.9h0M1758.7 594.4h0M1763.3 589.9h0M1763.3 594.4h0M1767.8 589.9h0M1767.8 594.4h0M1772.4 589.9h0M1777.0 589.9h0M1781.5 507.6h0M1781.5 512.1h0M1781.5 589.9h0M1786.1 507.6h0M1786.1 512.1h0M1790.7 516.7h0M1790.7 585.3h0M1795.2 516.7h0M1799.8 507.6h0M1799.8 516.7h0M1799.8 521.3h0M1799.8 576.2h0M1799.8 580.7h0M1804.3 507.6h0M1804.3 521.3h0M1804.3 530.4h0M1804.3 544.2h0M1804.3 571.6h0M1804.3 576.2h0M1804.3 580.7h0M1808.9 544.2h0M1808.9 553.3h0M1808.9 557.9h0M1808.9 562.4h0M1808.9 585.3h0M1813.5 548.7h0M1813.5 553.3h0M1813.5 557.9h0M1818.0 548.7h0M1818.0 553.3h0M1836.3 608.2h0M1840.9 571.6h0M1840.9 576.2h0"/><path stroke="#1fa287" d="M1151.6 439.0h0M1854.6 544.2h0M1882.0 594.4h0M1882.0 599.0h0M1891.1 608.2h0M1918.5 535.0h0M1923.0 530.4h0M1923.0 535.0h0M1927.6 530.4h0"/><path stroke="#22a884" d="M1667.4 484.7h0M1854.6 535.0h0M1859.1 548.7h0M1863.7 580.7h0M1872.8 571.6h0M1872.8 576.2h0M1886.5 599.0h0M1886.5 608.2h0M1886.5 612.7h0M1891.1 439.0h0M1891.1 530.4h0M1891.1 539.6h0M1891.1 612.7h0M1895.6 484.7h0M1895.6 608.2h0M1895.6 612.7h0M1900.2 608.2h0M1900.2 612.7h0M1904.8 571.6h0M1904.8 594.4h0M1904.8 608.2h0M1904.8 612.7h0M1909.3 599.0h0M1909.3 612.7h0M1918.5 525.9h0M1918.5 530.4h0M1923.0 452.7h0M1923.0 525.9h0M1923.0 548.7h0M1923.0 553.3h0M1923.0 557.9h0M1927.6 489.3h0M1927.6 525.9h0M1927.6 535.0h0M1927.6 548.7h0M1927.6 553.3h0M1927.6 557.9h0"/><path stroke="#25848e" d="M1726.7 548.7h0M1726.7 553.3h0M1726.7 562.4h0M1731.3 525.9h0M1731.3 567.0h0M1735.9 576.2h0M1735.9 594.4h0M1740.4 521.3h0M1740.4 580.7h0M1749.6 516.7h0M1749.6 589.9h0M1754.1 594.4h0M1758.7 512.1h0M1763.3 512.1h0M1767.8 512.1h0M1795.2 521.3h0M1799.8 567.0h0M1799.8 571.6h0M1804.3 567.0h0"/><path stroke="#28ae80" d="M1462.0 603.6h0M1489.4 553.3h0M1498.5 544.2h0M1507.6 503.0h0M1507.6 512.1h0M1516.8 521.3h0M1562.4 439.0h0M1672.0 576.2h0M1690.2 617.3h0M1699.4 544.2h0M1717.6 439.0h0M1786.1 443.6h0M1786.1 448.1h0M1790.7 443.6h0M1795.2 443.6h0M1822.6 439.0h0M1850.0 461.9h0M1859.1 539.6h0M1859.1 544.2h0M1868.3 571.6h0M1872.8 507.6h0M1882.0 603.6h0M1886.5 603.6h0"/><path stroke="#2f6c8e" d="M1032.9 503.0h0M1032.9 507.6h0M1032.9 512.1h0M1037.5 489.3h0M1037.5 493.9h0M1037.5 507.6h0M1037.5 512.1h0M1042.0 498.4h0M1042.0 503.0h0M1042.0 507.6h0M1042.0 512.1h0M1046.6 503.0h0M1046.6 507.6h0M1046.6 512.1h0M1051.2 489.3h0M1051.2 493.9h0M1051.2 503.0h0M1051.2 507.6h0M1051.2 512.1h0M1055.7 489.3h0M1055.7 507.6h0M1055.7 512.1h0M1060.3 503.0h0M1060.3 507.6h0M1110.5 544.2h0M1110.5 548.7h0M1110.5 553.3h0M1115.1 535.0h0M1115.1 548.7h0M1115.1 557.9h0M1119.6 530.4h0M1119.6 535.0h0M1119.6 539.6h0M1119.6 544.2h0M1119.6 548.7h0M1119.6 553.3h0M1124.2 530.4h0M1124.2 535.0h0M1124.2 548.7h0M1124.2 562.4h0M1128.8 557.9h0M1128.8 562.4h0M1133.3 530.4h0M1133.3 548.7h0M1133.3 557.9h0M1133.3 562.4h0M1137.9 530.4h0M1137.9 557.9h0M1142.5 530.4h0M1142.5 539.6h0M1142.5 544.2h0M1142.5 548.7h0M1142.5 553.3h0M1142.5 557.9h0M1147.0 535.0h0M1147.0 539.6h0M1147.0 544.2h0M1147.0 548.7h0M1201.8 503.0h0M1206.4 489.3h0M1206.4 493.9h0M1210.9 480.1h0M1210.9 484.7h0M1210.9 493.9h0M1210.9 498.4h0M1210.9 503.0h0M1210.9 507.6h0M1215.5 480.1h0M1215.5 503.0h0M1215.5 507.6h0M1220.1 484.7h0M1220.1 503.0h0M1220.1 507.6h0M1224.6 480.1h0M1224.6 484.7h0M1224.6 503.0h0M1224.6 507.6h0M1224.6 599.0h0M1224.6 603.6h0M1224.6 608.2h0M1224.6 612.7h0M1229.2 484.7h0M1229.2 503.0h0M1229.2 589.9h0M1229.2 594.4h0M1229.2 599.0h0M1229.2 608.2h0M1229.2 617.3h0M1233.7 489.3h0M1233.7 503.0h0M1233.7 589.9h0M1233.7 594.4h0M1233.7 617.3h0M1238.3 585.3h0M1238.3 617.3h0M1242.9 585.3h0M1242.9 612.7h0M1247.4 589.9h0M1247.4 594.4h0M1247.4 599.0h0M1247.4 603.6h0M1247.4 612.7h0M1247.4 617.3h0M1252.0 594.4h0M1252.0 599.0h0M1252.0 603.6h0M1252.0 608.2h0M1297.7 516.7h0M1297.7 521.3h0M1297.7 525.9h0M1297.7 530.4h0M1297.7 539.6h0M1297.7 544.2h0M1302.2 516.7h0M1302.2 521.3h0M1302.2 525.9h0M1302.2 530.4h0M1302.2 548.7h0M1306.8 512.1h0M1306.8 516.7h0M1306.8 525.9h0M1306.8 530.4h0M1306.8 544.2h0M1306.8 548.7h0M1311.3 512.1h0M1311.3 516.7h0M1311.3 521.3h0M1311.3 544.2h0M1311.3 548.7h0M1315.9 512.1h0M1315.9 516.7h0M1315.9 521.3h0M1315.9 535.0h0M1315.9 539.6h0M1315.9 544.2h0M1315.9 548.7h0M1320.5 539.6h0M1320.5 544.2h0M1325.0 516.7h0M1731.3 530.4h0M1731.3 535.0h0M1731.3 539.6h0M1731.3 544.2h0M1731.3 557.9h0M1731.3 562.4h0M1735.9 525.9h0M1735.9 530.4h0M1735.9 535.0h0M1735.9 544.2h0M1735.9 567.0h0M1735.9 571.6h0M1740.4 525.9h0M1740.4 530.4h0M1740.4 576.2h0M1745.0 521.3h0M1745.0 576.2h0M1745.0 580.7h0M1749.6 580.7h0M1754.1 516.7h0M1754.1 585.3h0M1758.7 585.3h0M1772.4 512.1h0M1777.0 512.1h0M1781.5 585.3h0M1786.1 580.7h0M1786.1 585.3h0M1790.7 521.3h0M1790.7 580.7h0M1795.2 525.9h0M1795.2 567.0h0M1795.2 571.6h0M1799.8 530.4h0M1804.3 535.0h0M1804.3 539.6h0"/><path stroke="#2fb47c" d="M1055.7 516.7h0M1064.8 484.7h0M1069.4 493.9h0M1069.4 498.4h0M1115.1 525.9h0M1124.2 521.3h0M1128.8 521.3h0M1128.8 567.0h0M1133.3 567.0h0M1151.6 443.6h0M1197.2 480.1h0M1197.2 484.7h0M1206.4 475.6h0M1215.5 471.0h0M1220.1 589.9h0M1220.1 594.4h0M1229.2 475.6h0M1229.2 512.1h0M1233.7 580.7h0M1238.3 480.1h0M1238.3 580.7h0M1242.9 493.9h0M1242.9 498.4h0M1242.9 580.7h0M1252.0 585.3h0M1256.6 589.9h0M1288.5 544.2h0M1293.1 516.7h0M1320.5 507.6h0M1325.0 512.1h0M1325.0 548.7h0M1329.6 544.2h0M1471.1 603.6h0M1484.8 617.3h0M1489.4 617.3h0M1493.9 493.9h0M1498.5 493.9h0M1498.5 608.2h0M1503.1 507.6h0M1503.1 608.2h0M1503.1 612.7h0M1507.6 507.6h0M1507.6 608.2h0M1512.2 512.1h0M1516.8 512.1h0M1553.3 471.0h0M1557.8 471.0h0M1562.4 612.7h0M1567.0 443.6h0M1567.0 480.1h0M1567.0 484.7h0M1571.5 439.0h0M1576.1 439.0h0M1612.6 516.7h0M1621.8 466.4h0M1644.6 512.1h0M1658.3 484.7h0M1662.8 489.3h0M1667.4 457.3h0M1667.4 571.6h0M1690.2 498.4h0M1690.2 544.2h0M1694.8 457.3h0M1694.8 461.9h0M1694.8 521.3h0M1694.8 530.4h0M1694.8 589.9h0M1694.8 617.3h0M1699.4 521.3h0M1699.4 525.9h0M1699.4 530.4h0M1699.4 539.6h0M1699.4 589.9h0M1699.4 612.7h0M1703.9 521.3h0M1703.9 525.9h0M1703.9 530.4h0M1703.9 539.6h0M1703.9 544.2h0M1703.9 548.7h0M1703.9 612.7h0M1703.9 617.3h0M1708.5 530.4h0M1708.5 535.0h0M1708.5 539.6h0M1708.5 612.7h0M1713.1 521.3h0M1713.1 525.9h0M1713.1 539.6h0M1713.1 544.2h0M1713.1 576.2h0M1717.6 525.9h0M1717.6 530.4h0M1717.6 535.0h0M1717.6 539.6h0M1717.6 544.2h0M1717.6 580.7h0M1717.6 617.3h0M1722.2 443.6h0M1722.2 567.0h0M1722.2 571.6h0M1722.2 576.2h0M1726.7 507.6h0M1726.7 516.7h0M1726.7 571.6h0M1726.7 576.2h0M1726.7 589.9h0M1731.3 516.7h0M1735.9 516.7h0M1740.4 484.7h0M1740.4 617.3h0M1745.0 480.1h0M1745.0 484.7h0M1745.0 512.1h0M1745.0 617.3h0M1749.6 480.1h0M1749.6 484.7h0M1749.6 498.4h0M1749.6 503.0h0M1749.6 507.6h0M1754.1 466.4h0M1754.1 471.0h0M1754.1 475.6h0M1754.1 480.1h0M1754.1 489.3h0M1754.1 493.9h0M1754.1 498.4h0M1754.1 503.0h0M1754.1 507.6h0M1754.1 603.6h0M1758.7 448.1h0M1758.7 493.9h0M1758.7 503.0h0M1758.7 507.6h0M1758.7 599.0h0M1763.3 503.0h0M1763.3 507.6h0M1763.3 603.6h0M1767.8 507.6h0M1767.8 599.0h0M1767.8 617.3h0M1772.4 503.0h0M1772.4 507.6h0M1772.4 594.4h0M1772.4 599.0h0M1772.4 603.6h0M1777.0 489.3h0M1777.0 493.9h0M1777.0 498.4h0M1777.0 503.0h0M1777.0 507.6h0M1777.0 599.0h0M1777.0 603.6h0M1781.5 489.3h0M1781.5 493.9h0M1781.5 498.4h0M1781.5 503.0h0M1781.5 594.4h0M1781.5 599.0h0M1781.5 603.6h0M1781.5 608.2h0M1786.1 589.9h0M1786.1 594.4h0M1790.7 512.1h0M1795.2 512.1h0M1799.8 512.1h0M1799.8 585.3h0M1799.8 617.3h0M1804.3 498.4h0M1804.3 503.0h0M1804.3 612.7h0M1804.3 617.3h0M1808.9 498.4h0M1808.9 503.0h0M1808.9 539.6h0M1808.9 603.6h0M1808.9 608.2h0M1808.9 612.7h0M1813.5 498.4h0M1813.5 521.3h0M1813.5 525.9h0M1813.5 530.4h0M1813.5 539.6h0M1813.5 544.2h0M1813.5 562.4h0M1813.5 571.6h0M1813.5 580.7h0M1813.5 585.3h0M1818.0 521.3h0M1818.0 525.9h0M1818.0 530.4h0M1818.0 539.6h0M1818.0 544.2h0M1818.0 562.4h0M1818.0 580.7h0M1822.6 489.3h0M1822.6 521.3h0M1822.6 525.9h0M1822.6 562.4h0M1822.6 571.6h0M1822.6 576.2h0M1822.6 580.7h0M1827.2 484.7h0M1827.2 489.3h0M1827.2 516.7h0M1827.2 576.2h0M1831.7 484.7h0M1831.7 489.3h0M1836.3 489.3h0M1840.9 535.0h0M1845.4 493.9h0M1845.4 530.4h0M1845.4 548.7h0M1850.0 525.9h0M1850.0 535.0h0M1850.0 539.6h0M1850.0 544.2h0M1850.0 548.7h0M1850.0 553.3h0"/><path stroke="#355f8d" d="M1927.6 589.9h0"/><path stroke="#38b977" d="M1462.0 608.2h0M1466.6 594.4h0M1466.6 599.0h0M1466.6 603.6h0M1466.6 608.2h0M1471.1 589.9h0M1471.1 594.4h0M1471.1 599.0h0M1475.7 594.4h0M1489.4 544.2h0M1489.4 548.7h0M1493.9 498.4h0M1493.9 544.2h0M1493.9 548.7h0M1493.9 553.3h0M1493.9 608.2h0M1493.9 617.3h0M1498.5 498.4h0M1498.5 503.0h0M1498.5 507.6h0M1498.5 539.6h0M1498.5 553.3h0M1503.1 498.4h0M1503.1 503.0h0M1503.1 516.7h0M1503.1 525.9h0M1503.1 617.3h0M1507.6 516.7h0M1507.6 612.7h0M1512.2 507.6h0M1512.2 516.7h0M1516.8 516.7h0M1516.8 594.4h0M1539.6 571.6h0M1553.3 475.6h0M1553.3 525.9h0M1557.8 475.6h0M1557.8 480.1h0M1562.4 443.6h0M1562.4 448.1h0M1562.4 475.6h0M1562.4 480.1h0M1562.4 484.7h0M1567.0 439.0h0M1567.0 475.6h0M1571.5 443.6h0M1576.1 443.6h0M1585.2 535.0h0M1598.9 489.3h0M1603.5 612.7h0M1608.1 439.0h0M1608.1 576.2h0M1608.1 617.3h0M1612.6 521.3h0M1630.9 557.9h0M1640.0 439.0h0M1662.8 484.7h0M1662.8 571.6h0M1676.5 544.2h0"/><path stroke="#3b528b" d="M1735.9 539.6h0M1749.6 535.0h0M1749.6 576.2h0M1754.1 521.3h0M1754.1 571.6h0M1754.1 576.2h0M1754.1 580.7h0M1758.7 516.7h0M1758.7 521.3h0M1758.7 571.6h0M1758.7 576.2h0M1758.7 580.7h0M1763.3 516.7h0M1763.3 521.3h0M1763.3 571.6h0M1763.3 580.7h0M1763.3 585.3h0M1767.8 516.7h0M1767.8 539.6h0M1767.8 585.3h0M1772.4 580.7h0M1772.4 585.3h0M1777.0 576.2h0M1777.0 585.3h0M1781.5 516.7h0M1781.5 562.4h0M1781.5 567.0h0M1781.5 571.6h0M1781.5 576.2h0M1781.5 580.7h0M1786.1 521.3h0M1786.1 562.4h0M1786.1 567.0h0M1790.7 525.9h0M1790.7 553.3h0M1790.7 557.9h0M1790.7 562.4h0M1790.7 567.0h0M1795.2 530.4h0M1795.2 535.0h0M1795.2 539.6h0M1795.2 553.3h0M1795.2 557.9h0M1795.2 562.4h0M1799.8 535.0h0M1799.8 539.6h0M1799.8 548.7h0M1799.8 553.3h0M1799.8 557.9h0"/><path stroke="#44bf70" d="M1466.6 589.9h0M1484.8 548.7h0M1484.8 557.9h0M1493.9 539.6h0M1498.5 512.1h0M1530.5 480.1h0"/><path stroke="#50c46a" d="M1019.2 489.3h0M1019.2 493.9h0M1019.2 498.4h0M1019.2 503.0h0M1019.2 507.6h0M1023.8 484.7h0M1023.8 489.3h0M1023.8 512.1h0M1028.3 484.7h0M1028.3 516.7h0M1032.9 521.3h0M1032.9 530.4h0M1037.5 480.1h0M1037.5 521.3h0M1051.2 521.3h0M1060.3 480.1h0M1060.3 516.7h0M1064.8 512.1h0M1069.4 484.7h0M1069.4 489.3h0M1069.4 507.6h0M1069.4 512.1h0M1074.0 489.3h0M1074.0 503.0h0M1074.0 507.6h0M1087.7 507.6h0M1092.2 530.4h0M1092.2 535.0h0M1092.2 539.6h0M1096.8 516.7h0M1096.8 521.3h0M1096.8 530.4h0M1096.8 535.0h0M1096.8 539.6h0M1096.8 544.2h0M1101.4 544.2h0M1101.4 548.7h0M1101.4 553.3h0M1101.4 557.9h0M1105.9 562.4h0M1110.5 525.9h0M1110.5 530.4h0M1110.5 567.0h0M1115.1 521.3h0M1115.1 567.0h0M1119.6 521.3h0M1119.6 567.0h0M1133.3 521.3h0M1137.9 567.0h0M1142.5 567.0h0M1142.5 571.6h0M1142.5 585.3h0M1147.0 562.4h0M1147.0 567.0h0M1147.0 585.3h0M1147.0 589.9h0M1151.6 525.9h0M1151.6 557.9h0M1151.6 585.3h0M1151.6 589.9h0M1156.1 530.4h0M1156.1 535.0h0M1156.1 548.7h0M1156.1 553.3h0M1156.1 557.9h0M1156.1 571.6h0M1156.1 580.7h0M1156.1 585.3h0M1156.1 589.9h0M1160.7 535.0h0M1160.7 548.7h0M1160.7 580.7h0M1160.7 585.3h0M1160.7 589.9h0M1169.8 530.4h0M1169.8 539.6h0M1188.1 489.3h0M1188.1 525.9h0M1192.7 480.1h0M1192.7 484.7h0M1192.7 493.9h0M1192.7 503.0h0M1197.2 475.6h0M1197.2 507.6h0M1201.8 475.6h0M1201.8 512.1h0M1206.4 471.0h0M1206.4 516.7h0M1206.4 612.7h0M1210.9 471.0h0M1210.9 516.7h0M1210.9 599.0h0M1210.9 603.6h0M1210.9 612.7h0M1215.5 516.7h0M1215.5 585.3h0M1215.5 589.9h0M1215.5 594.4h0M1215.5 599.0h0M1215.5 608.2h0M1215.5 612.7h0M1220.1 457.3h0M1220.1 471.0h0M1220.1 516.7h0M1220.1 585.3h0M1224.6 457.3h0M1224.6 471.0h0M1224.6 516.7h0M1224.6 580.7h0M1224.6 585.3h0M1229.2 516.7h0M1229.2 580.7h0M1233.7 475.6h0M1233.7 512.1h0M1233.7 516.7h0M1238.3 475.6h0M1238.3 507.6h0M1242.9 480.1h0M1242.9 484.7h0M1242.9 489.3h0M1242.9 503.0h0M1242.9 507.6h0M1247.4 484.7h0M1247.4 489.3h0M1247.4 493.9h0M1247.4 498.4h0M1247.4 503.0h0M1247.4 507.6h0M1247.4 521.3h0M1247.4 580.7h0M1252.0 521.3h0M1252.0 580.7h0M1261.1 525.9h0M1261.1 530.4h0M1261.1 535.0h0M1261.1 580.7h0M1261.1 585.3h0M1261.1 589.9h0M1261.1 594.4h0M1261.1 603.6h0M1261.1 608.2h0M1261.1 612.7h0M1261.1 617.3h0M1265.7 535.0h0M1265.7 580.7h0M1265.7 585.3h0M1265.7 589.9h0M1265.7 594.4h0M1265.7 599.0h0M1265.7 612.7h0M1270.3 612.7h0M1274.8 612.7h0M1274.8 617.3h0M1284.0 525.9h0M1284.0 535.0h0M1284.0 539.6h0M1284.0 544.2h0M1284.0 548.7h0M1288.5 516.7h0M1288.5 521.3h0M1288.5 548.7h0M1293.1 507.6h0M1293.1 512.1h0M1293.1 548.7h0M1297.7 507.6h0M1297.7 553.3h0M1311.3 553.3h0M1311.3 557.9h0M1315.9 553.3h0M1315.9 557.9h0M1320.5 553.3h0M1325.0 507.6h0M1325.0 553.3h0M1329.6 507.6h0M1329.6 548.7h0M1334.2 521.3h0M1334.2 525.9h0M1334.2 544.2h0M1334.2 548.7h0M1338.7 516.7h0M1338.7 521.3h0M1338.7 525.9h0M1338.7 530.4h0M1338.7 535.0h0M1338.7 539.6h0M1343.3 521.3h0M1343.3 525.9h0M1343.3 530.4h0M1343.3 535.0h0M1343.3 544.2h0M1347.9 539.6h0M1462.0 594.4h0M1489.4 539.6h0M1713.1 480.1h0M1735.9 489.3h0M1735.9 493.9h0M1735.9 608.2h0M1735.9 612.7h0M1740.4 471.0h0M1740.4 608.2h0M1740.4 612.7h0M1745.0 608.2h0M1745.0 612.7h0M1749.6 489.3h0M1749.6 493.9h0M1749.6 608.2h0M1749.6 612.7h0M1763.3 475.6h0M1763.3 480.1h0M1763.3 612.7h0M1767.8 603.6h0M1767.8 608.2h0M1767.8 612.7h0M1772.4 608.2h0M1772.4 612.7h0M1777.0 608.2h0M1777.0 612.7h0M1790.7 612.7h0M1804.3 471.0h0M1804.3 493.9h0M1808.9 493.9h0M1813.5 493.9h0M1818.0 493.9h0M1822.6 493.9h0"/><path stroke="#5ec962" d="M1156.1 439.0h0M1475.7 567.0h0"/><path stroke="#6ccd5a" d="M1462.0 589.9h0M1484.8 539.6h0M1544.2 443.6h0"/><path stroke="#7ad151" d="M1484.8 544.2h0"/><path stroke="#9bd93c" d="M1338.7 585.3h0M1457.4 580.7h0M1489.4 512.1h0M1498.5 489.3h0M1521.3 439.0h0M1535.0 443.6h0M1539.6 443.6h0"/><path stroke="#addc30" d="M1019.2 484.7h0M1019.2 512.1h0M1019.2 516.7h0M1019.2 603.6h0M1023.8 466.4h0M1023.8 516.7h0M1023.8 580.7h0M1023.8 594.4h0M1023.8 599.0h0M1028.3 608.2h0M1032.9 480.1h0M1032.9 539.6h0M1037.5 475.6h0M1037.5 530.4h0M1042.0 471.0h0M1042.0 475.6h0M1042.0 521.3h0M1042.0 525.9h0M1046.6 466.4h0M1046.6 475.6h0M1046.6 521.3h0M1046.6 525.9h0M1046.6 530.4h0M1051.2 466.4h0M1051.2 475.6h0M1051.2 525.9h0M1055.7 466.4h0M1055.7 475.6h0M1055.7 521.3h0M1060.3 439.0h0M1060.3 471.0h0M1060.3 475.6h0M1060.3 521.3h0M1060.3 530.4h0M1060.3 535.0h0M1064.8 471.0h0M1064.8 475.6h0M1064.8 480.1h0M1064.8 516.7h0M1064.8 525.9h0M1064.8 530.4h0M1069.4 439.0h0M1069.4 475.6h0M1069.4 480.1h0M1069.4 525.9h0M1069.4 530.4h0M1069.4 535.0h0M1074.0 480.1h0M1074.0 484.7h0M1074.0 525.9h0M1074.0 530.4h0M1078.5 475.6h0M1078.5 480.1h0M1078.5 489.3h0M1078.5 525.9h0M1083.1 480.1h0M1083.1 493.9h0M1083.1 498.4h0M1083.1 503.0h0M1083.1 562.4h0M1087.7 493.9h0M1087.7 498.4h0M1087.7 503.0h0M1087.7 557.9h0M1087.7 562.4h0M1087.7 567.0h0M1092.2 503.0h0M1092.2 557.9h0M1092.2 562.4h0M1092.2 585.3h0M1096.8 585.3h0M1101.4 516.7h0M1101.4 530.4h0M1101.4 539.6h0M1101.4 562.4h0M1101.4 585.3h0M1105.9 516.7h0M1105.9 530.4h0M1105.9 585.3h0M1110.5 457.3h0M1110.5 521.3h0M1119.6 571.6h0M1124.2 516.7h0M1124.2 571.6h0M1124.2 576.2h0M1128.8 512.1h0M1128.8 516.7h0M1128.8 571.6h0M1133.3 512.1h0M1133.3 516.7h0M1133.3 571.6h0M1137.9 571.6h0M1137.9 576.2h0M1142.5 457.3h0M1142.5 521.3h0M1147.0 516.7h0M1147.0 521.3h0M1147.0 580.7h0M1147.0 594.4h0M1151.6 521.3h0M1151.6 562.4h0M1151.6 580.7h0M1151.6 594.4h0M1156.1 525.9h0M1160.7 516.7h0M1160.7 521.3h0M1160.7 525.9h0M1160.7 530.4h0M1160.7 594.4h0M1165.3 475.6h0M1165.3 516.7h0M1165.3 525.9h0M1165.3 535.0h0M1165.3 544.2h0M1165.3 567.0h0M1165.3 571.6h0M1165.3 580.7h0M1169.8 480.1h0M1169.8 544.2h0M1169.8 567.0h0M1169.8 571.6h0M1179.0 571.6h0M1183.5 471.0h0M1183.5 493.9h0M1183.5 498.4h0M1183.5 503.0h0M1183.5 603.6h0M1183.5 608.2h0M1188.1 493.9h0M1188.1 498.4h0M1188.1 503.0h0M1188.1 599.0h0M1192.7 507.6h0M1197.2 466.4h0M1197.2 471.0h0M1197.2 512.1h0M1197.2 521.3h0M1197.2 525.9h0M1197.2 530.4h0M1201.8 461.9h0M1201.8 466.4h0M1201.8 471.0h0M1201.8 521.3h0M1201.8 525.9h0M1201.8 530.4h0M1201.8 585.3h0M1201.8 617.3h0M1206.4 452.7h0M1206.4 461.9h0M1206.4 466.4h0M1206.4 521.3h0M1206.4 525.9h0M1206.4 530.4h0M1206.4 535.0h0M1206.4 585.3h0M1210.9 466.4h0M1210.9 521.3h0M1210.9 530.4h0M1210.9 580.7h0M1210.9 585.3h0M1210.9 589.9h0M1215.5 452.7h0M1215.5 466.4h0M1215.5 580.7h0M1220.1 461.9h0M1220.1 466.4h0M1220.1 576.2h0M1220.1 580.7h0M1224.6 461.9h0M1224.6 521.3h0M1224.6 525.9h0M1229.2 466.4h0M1229.2 471.0h0M1229.2 521.3h0M1229.2 525.9h0M1229.2 576.2h0M1233.7 439.0h0M1233.7 562.4h0M1233.7 567.0h0M1233.7 571.6h0M1233.7 576.2h0M1238.3 557.9h0M1238.3 562.4h0M1238.3 567.0h0M1238.3 571.6h0M1238.3 576.2h0M1242.9 439.0h0M1242.9 448.1h0M1242.9 475.6h0M1242.9 576.2h0M1247.4 475.6h0M1247.4 480.1h0M1247.4 576.2h0M1252.0 489.3h0M1252.0 507.6h0M1252.0 512.1h0M1252.0 516.7h0M1252.0 525.9h0M1252.0 576.2h0M1256.6 466.4h0M1256.6 489.3h0M1256.6 493.9h0M1256.6 512.1h0M1256.6 516.7h0M1256.6 580.7h0M1261.1 489.3h0M1261.1 493.9h0M1261.1 512.1h0M1261.1 521.3h0M1261.1 539.6h0M1265.7 521.3h0M1265.7 525.9h0M1265.7 530.4h0M1265.7 539.6h0M1265.7 544.2h0M1265.7 548.7h0M1265.7 576.2h0M1270.3 516.7h0M1270.3 525.9h0M1270.3 530.4h0M1270.3 535.0h0M1270.3 539.6h0M1270.3 544.2h0M1270.3 553.3h0M1270.3 589.9h0M1274.8 507.6h0M1274.8 530.4h0M1274.8 535.0h0M1274.8 539.6h0M1274.8 548.7h0M1274.8 585.3h0M1274.8 589.9h0M1279.4 507.6h0M1279.4 548.7h0M1279.4 553.3h0M1284.0 512.1h0M1284.0 516.7h0M1284.0 521.3h0M1284.0 553.3h0M1288.5 507.6h0M1288.5 512.1h0M1293.1 475.6h0M1293.1 493.9h0M1293.1 553.3h0M1297.7 493.9h0M1297.7 557.9h0M1297.7 562.4h0M1302.2 493.9h0M1302.2 557.9h0M1302.2 562.4h0M1306.8 475.6h0M1306.8 480.1h0M1306.8 557.9h0M1306.8 562.4h0M1311.3 480.1h0M1311.3 498.4h0M1311.3 567.0h0M1315.9 475.6h0M1315.9 503.0h0M1315.9 562.4h0M1320.5 498.4h0M1320.5 503.0h0M1320.5 557.9h0M1325.0 484.7h0M1325.0 489.3h0M1325.0 493.9h0M1325.0 498.4h0M1325.0 503.0h0M1325.0 557.9h0M1329.6 489.3h0M1329.6 493.9h0M1329.6 503.0h0M1329.6 553.3h0M1329.6 557.9h0M1334.2 553.3h0M1334.2 557.9h0M1338.7 553.3h0M1357.0 498.4h0M1384.4 484.7h0M1389.0 484.7h0M1393.5 567.0h0M1462.0 457.3h0M1466.6 457.3h0M1466.6 530.4h0M1484.8 507.6h0M1503.1 475.6h0M1507.6 475.6h0M1521.3 443.6h0M1539.6 439.0h0"/><path stroke="#bddf26" d="M1019.2 576.2h0M1019.2 580.7h0M1019.2 589.9h0M1019.2 594.4h0M1019.2 608.2h0M1019.2 612.7h0M1023.8 585.3h0M1023.8 589.9h0M1023.8 603.6h0M1023.8 608.2h0M1023.8 612.7h0M1028.3 448.1h0M1028.3 585.3h0M1028.3 589.9h0M1028.3 594.4h0M1028.3 603.6h0M1032.9 608.2h0M1064.8 580.7h0M1074.0 439.0h0M1078.5 439.0h0M1092.2 439.0h0M1096.8 439.0h0M1096.8 443.6h0M1101.4 439.0h0M1101.4 443.6h0M1101.4 448.1h0M1105.9 489.3h0M1110.5 489.3h0M1110.5 493.9h0M1110.5 498.4h0M1115.1 489.3h0M1119.6 461.9h0M1119.6 484.7h0M1124.2 489.3h0M1128.8 466.4h0M1137.9 461.9h0M1142.5 466.4h0M1147.0 461.9h0M1156.1 471.0h0M1160.7 443.6h0M1160.7 475.6h0M1165.3 439.0h0M1165.3 443.6h0M1165.3 480.1h0M1169.8 439.0h0M1169.8 443.6h0M1174.4 439.0h0M1174.4 443.6h0M1183.5 612.7h0M1201.8 439.0h0M1201.8 443.6h0M1201.8 448.1h0M1206.4 439.0h0M1206.4 443.6h0M1206.4 448.1h0M1210.9 439.0h0M1210.9 443.6h0M1210.9 448.1h0M1233.7 443.6h0M1233.7 448.1h0M1238.3 443.6h0M1238.3 448.1h0M1242.9 443.6h0M1293.1 599.0h0M1302.2 452.7h0M1302.2 466.4h0M1302.2 567.0h0M1306.8 466.4h0M1306.8 567.0h0M1306.8 571.6h0M1306.8 576.2h0M1311.3 571.6h0M1311.3 576.2h0M1311.3 580.7h0M1315.9 567.0h0M1315.9 571.6h0M1315.9 576.2h0M1325.0 617.3h0M1334.2 439.0h0M1338.7 439.0h0M1343.3 439.0h0M1347.9 439.0h0M1361.6 562.4h0M1366.1 457.3h0M1370.7 461.9h0M1370.7 521.3h0M1379.8 489.3h0M1379.8 493.9h0M1379.8 544.2h0M1384.4 544.2h0M1384.4 608.2h0M1393.5 448.1h0M1393.5 512.1h0M1393.5 571.6h0M1407.2 535.0h0M1416.3 493.9h0M1420.9 557.9h0M1420.9 617.3h0M1430.0 580.7h0M1434.6 612.7h0M1439.2 471.0h0M1439.2 525.9h0M1448.3 576.2h0M1448.3 580.7h0M1448.3 585.3h0M1448.3 589.9h0M1452.9 507.6h0M1452.9 557.9h0M1452.9 580.7h0M1452.9 585.3h0M1452.9 589.9h0M1457.4 457.3h0M1457.4 461.9h0M1457.4 466.4h0M1457.4 507.6h0M1457.4 535.0h0M1462.0 461.9h0M1462.0 466.4h0M1462.0 507.6h0M1462.0 512.1h0M1462.0 516.7h0M1466.6 461.9h0M1466.6 466.4h0M1466.6 512.1h0M1466.6 521.3h0M1471.1 461.9h0M1471.1 466.4h0M1471.1 516.7h0M1471.1 521.3h0M1471.1 525.9h0M1475.7 475.6h0M1475.7 480.1h0M1480.2 475.6h0M1480.2 480.1h0M1480.2 484.7h0M1484.8 457.3h0M1484.8 475.6h0M1484.8 484.7h0M1484.8 512.1h0M1489.4 516.7h0M1493.9 489.3h0M1503.1 466.4h0M1503.1 484.7h0M1507.6 466.4h0M1507.6 471.0h0M1512.2 471.0h0M1516.8 439.0h0M1525.9 439.0h0M1525.9 443.6h0M1530.5 439.0h0M1530.5 443.6h0M1535.0 439.0h0"/><path stroke="#dfe318" d="M1019.2 471.0h0M1019.2 475.6h0M1019.2 539.6h0M1023.8 471.0h0M1023.8 475.6h0M1028.3 471.0h0M1028.3 475.6h0M1028.3 544.2h0M1037.5 535.0h0M1042.0 539.6h0M1046.6 471.0h0M1046.6 535.0h0M1051.2 471.0h0M1055.7 471.0h0M1064.8 521.3h0M1069.4 516.7h0M1069.4 521.3h0M1074.0 471.0h0M1074.0 475.6h0M1105.9 567.0h0M1105.9 571.6h0M1110.5 571.6h0M1110.5 576.2h0M1115.1 507.6h0M1115.1 512.1h0M1115.1 516.7h0M1115.1 576.2h0M1115.1 580.7h0M1119.6 507.6h0M1119.6 512.1h0M1119.6 516.7h0M1119.6 576.2h0M1119.6 580.7h0M1124.2 507.6h0M1124.2 512.1h0M1124.2 580.7h0M1124.2 585.3h0M1133.3 576.2h0M1137.9 503.0h0M1137.9 507.6h0M1137.9 512.1h0M1137.9 516.7h0M1137.9 580.7h0M1142.5 503.0h0M1142.5 507.6h0M1142.5 512.1h0M1142.5 516.7h0M1165.3 521.3h0M1174.4 493.9h0M1183.5 466.4h0M1188.1 466.4h0M1192.7 512.1h0M1210.9 461.9h0M1210.9 562.4h0M1210.9 567.0h0M1210.9 571.6h0M1210.9 576.2h0M1215.5 521.3h0M1215.5 562.4h0M1215.5 567.0h0M1215.5 571.6h0M1215.5 576.2h0M1220.1 521.3h0M1224.6 530.4h0M1247.4 471.0h0M1256.6 461.9h0M1261.1 516.7h0M1265.7 516.7h0M1270.3 548.7h0M1288.5 493.9h0M1288.5 503.0h0M1293.1 498.4h0M1293.1 503.0h0M1297.7 498.4h0M1297.7 503.0h0M1302.2 498.4h0M1302.2 503.0h0M1306.8 484.7h0M1306.8 498.4h0M1306.8 503.0h0M1320.5 489.3h0M1347.9 475.6h0"/></g><g clip-path="url(#cpH)" stroke-linecap="round" stroke-width="5.00" fill="none"><path stroke="#1e9c89" d="M1713.1 808.3h0M1717.6 776.4h0M1717.6 812.8h0M1804.3 762.7h0M1891.1 771.8h0M1923.0 780.9h0M1923.0 785.5h0M1923.0 790.0h0"/><path stroke="#21918c" d="M1183.5 698.9h0M1188.1 698.9h0M1197.2 694.3h0M1197.2 698.9h0M1197.2 703.4h0M1197.2 708.0h0M1201.8 694.3h0M1201.8 698.9h0M1201.8 703.4h0M1201.8 708.0h0M1206.4 694.3h0M1206.4 698.9h0M1206.4 703.4h0M1206.4 708.0h0"/><path stroke="#22a884" d="M1023.8 726.2h0M1028.3 708.0h0M1032.9 721.6h0M1032.9 762.7h0M1037.5 749.0h0M1042.0 744.4h0M1042.0 758.1h0M1051.2 744.4h0M1051.2 758.1h0M1055.7 753.6h0M1060.3 712.5h0M1064.8 749.0h0M1074.0 721.6h0M1074.0 735.3h0M1083.1 735.3h0M1083.1 794.6h0M1087.7 735.3h0M1087.7 739.9h0M1092.2 735.3h0M1092.2 767.2h0M1096.8 676.1h0M1101.4 676.1h0M1101.4 680.6h0M1105.9 671.5h0M1105.9 767.2h0M1110.5 689.7h0M1110.5 794.6h0M1115.1 794.6h0M1124.2 799.2h0M1128.8 671.5h0M1128.8 698.9h0M1137.9 694.3h0M1142.5 689.7h0M1142.5 694.3h0M1142.5 698.9h0M1147.0 694.3h0M1151.6 676.1h0M1156.1 703.4h0M1183.5 835.6h0M1183.5 840.2h0M1188.1 831.1h0M1201.8 817.4h0M1224.6 812.8h0M1233.7 749.0h0M1238.3 708.0h0"/><path stroke="#25848e" d="M1694.8 689.7h0M1694.8 694.3h0"/><path stroke="#277e8e" d="M1137.9 753.6h0M1156.1 771.8h0"/><path stroke="#2a788e" d="M1722.2 780.9h0M1813.5 753.6h0M1813.5 758.1h0M1813.5 762.7h0M1818.0 753.6h0M1818.0 758.1h0M1818.0 762.7h0M1822.6 753.6h0M1822.6 758.1h0M1918.5 785.5h0"/><path stroke="#2f6c8e" d="M1726.7 780.9h0M1726.7 785.5h0M1731.3 803.7h0M1731.3 808.3h0M1735.9 799.2h0M1735.9 803.7h0M1735.9 808.3h0M1740.4 808.3h0"/><path stroke="#2fb47c" d="M1201.8 676.1h0M1201.8 680.6h0M1201.8 685.2h0M1206.4 676.1h0M1206.4 680.6h0M1238.3 790.0h0M1238.3 794.6h0M1238.3 799.2h0M1242.9 739.9h0M1242.9 808.3h0M1242.9 812.8h0M1247.4 730.8h0M1247.4 812.8h0M1252.0 808.3h0M1252.0 812.8h0M1252.0 826.5h0M1252.0 831.1h0M1256.6 698.9h0M1261.1 835.6h0M1270.3 844.7h0M1274.8 739.9h0M1274.8 767.2h0M1274.8 771.8h0M1274.8 844.7h0M1284.0 758.1h0M1288.5 744.4h0M1288.5 767.2h0M1288.5 776.4h0M1293.1 767.2h0M1306.8 735.3h0M1315.9 739.9h0M1329.6 762.7h0M1329.6 767.2h0M1338.7 767.2h0M1338.7 785.5h0M1357.0 730.8h0M1366.1 689.7h0M1370.7 694.3h0M1379.8 726.2h0M1379.8 776.4h0M1384.4 776.4h0M1393.5 744.4h0M1420.9 671.5h0M1420.9 790.0h0M1612.6 749.0h0M1612.6 753.6h0M1740.4 812.8h0"/><path stroke="#355f8d" d="M1147.0 758.1h0"/><path stroke="#3b528b" d="M1160.7 708.0h0M1160.7 712.5h0M1165.3 708.0h0M1165.3 717.1h0M1169.8 712.5h0M1174.4 726.2h0M1183.5 703.4h0M1192.7 739.9h0M1192.7 744.4h0M1197.2 735.3h0M1201.8 717.1h0M1201.8 730.8h0M1201.8 735.3h0M1206.4 712.5h0M1206.4 721.6h0M1206.4 726.2h0M1210.9 712.5h0M1210.9 717.1h0M1210.9 735.3h0"/><path stroke="#44bf70" d="M1206.4 844.7h0M1210.9 844.7h0M1215.5 844.7h0M1220.1 840.2h0M1224.6 840.2h0M1224.6 844.7h0M1229.2 840.2h0"/><path stroke="#50c46a" d="M1233.7 794.6h0M1233.7 799.2h0M1233.7 803.7h0M1238.3 808.3h0M1238.3 812.8h0M1717.6 771.8h0M1735.9 817.4h0M1745.0 812.8h0M1777.0 840.2h0M1777.0 844.7h0M1786.1 739.9h0M1786.1 744.4h0M1786.1 753.6h0M1790.7 744.4h0M1790.7 749.0h0M1790.7 753.6h0M1790.7 758.1h0"/><path stroke="#5ec962" d="M1475.7 708.0h0M1475.7 712.5h0M1480.2 717.1h0M1484.8 708.0h0M1484.8 712.5h0M1503.1 758.1h0"/><path stroke="#7ad151" d="M1448.3 808.3h0M1448.3 812.8h0M1448.3 817.4h0M1448.3 821.9h0M1452.9 812.8h0M1452.9 817.4h0M1452.9 821.9h0M1452.9 826.5h0M1457.4 812.8h0"/><path stroke="#8bd646" d="M1503.1 717.1h0"/><path stroke="#9bd93c" d="M1484.8 771.8h0M1484.8 780.9h0M1484.8 790.0h0M1489.4 776.4h0M1489.4 785.5h0M1493.9 776.4h0M1493.9 780.9h0M1493.9 785.5h0M1493.9 790.0h0M1498.5 785.5h0"/><path stroke="#addc30" d="M1434.6 844.7h0M1462.0 835.6h0M1466.6 821.9h0M1466.6 826.5h0M1466.6 835.6h0M1466.6 840.2h0M1471.1 821.9h0M1471.1 826.5h0M1471.1 831.1h0M1475.7 826.5h0M1503.1 703.4h0M1507.6 698.9h0M1507.6 703.4h0M1507.6 708.0h0M1512.2 703.4h0M1717.6 758.1h0M1726.7 735.3h0M1726.7 739.9h0M1726.7 749.0h0M1726.7 758.1h0M1726.7 762.7h0M1726.7 821.9h0M1731.3 749.0h0M1731.3 753.6h0M1735.9 726.2h0M1740.4 749.0h0M1740.4 753.6h0M1740.4 758.1h0M1740.4 817.4h0M1745.0 749.0h0M1745.0 753.6h0M1749.6 767.2h0M1749.6 831.1h0M1763.3 712.5h0M1763.3 835.6h0M1763.3 844.7h0M1767.8 831.1h0M1767.8 835.6h0M1767.8 844.7h0M1772.4 831.1h0M1772.4 835.6h0M1772.4 840.2h0M1772.4 844.7h0M1777.0 831.1h0M1777.0 835.6h0M1781.5 831.1h0M1781.5 835.6h0M1781.5 840.2h0M1786.1 676.1h0M1786.1 680.6h0M1790.7 676.1h0M1795.2 676.1h0M1818.0 776.4h0M1822.6 671.5h0M1891.1 762.7h0M1918.5 767.2h0M1923.0 758.1h0M1923.0 762.7h0M1923.0 767.2h0M1927.6 721.6h0M1927.6 726.2h0"/><path stroke="#cde11d" d="M1840.9 808.3h0M1863.7 812.8h0M1863.7 849.3h0M1868.3 803.7h0M1872.8 803.7h0M1872.8 808.3h0M1904.8 826.5h0M1909.3 831.1h0"/><path stroke="#dfe318" d="M1544.2 671.5h0M1544.2 676.1h0M1562.4 671.5h0M1562.4 676.1h0M1562.4 680.6h0M1567.0 671.5h0M1567.0 676.1h0M1571.5 671.5h0M1571.5 676.1h0M1576.1 671.5h0M1580.7 671.5h0M1603.5 844.7h0M1608.1 849.3h0M1640.0 671.5h0M1658.3 717.1h0M1662.8 717.1h0M1662.8 721.6h0M1662.8 803.7h0M1667.4 717.1h0M1667.4 803.7h0M1672.0 808.3h0M1735.9 821.9h0M1735.9 826.5h0M1735.9 840.2h0M1735.9 844.7h0M1740.4 840.2h0M1740.4 844.7h0M1740.4 849.3h0M1745.0 840.2h0M1745.0 849.3h0M1749.6 840.2h0M1749.6 844.7h0M1754.1 826.5h0M1754.1 831.1h0M1754.1 835.6h0M1758.7 821.9h0M1758.7 826.5h0M1758.7 831.1h0M1763.3 817.4h0M1763.3 821.9h0M1763.3 826.5h0M1767.8 817.4h0M1767.8 826.5h0M1767.8 849.3h0M1772.4 812.8h0M1772.4 817.4h0M1772.4 821.9h0M1772.4 826.5h0M1777.0 808.3h0M1777.0 817.4h0M1777.0 821.9h0M1781.5 794.6h0M1781.5 799.2h0M1781.5 803.7h0M1781.5 808.3h0M1781.5 812.8h0M1781.5 817.4h0M1781.5 821.9h0M1781.5 826.5h0M1786.1 794.6h0M1786.1 799.2h0M1786.1 812.8h0M1786.1 817.4h0M1786.1 821.9h0M1786.1 826.5h0M1790.7 785.5h0M1790.7 790.0h0M1790.7 799.2h0M1790.7 812.8h0M1795.2 790.0h0M1795.2 794.6h0M1795.2 799.2h0M1795.2 803.7h0M1799.8 780.9h0M1799.8 785.5h0M1799.8 790.0h0M1799.8 799.2h0M1799.8 803.7h0M1799.8 808.3h0M1799.8 812.8h0M1799.8 817.4h0M1804.3 776.4h0M1804.3 799.2h0M1804.3 803.7h0M1804.3 808.3h0M1804.3 812.8h0M1808.9 776.4h0M1808.9 785.5h0M1808.9 790.0h0M1808.9 794.6h0M1808.9 817.4h0M1813.5 776.4h0M1813.5 780.9h0M1813.5 785.5h0M1813.5 790.0h0M1813.5 803.7h0M1813.5 812.8h0M1813.5 817.4h0M1818.0 780.9h0M1818.0 785.5h0M1818.0 794.6h0M1818.0 812.8h0M1822.6 794.6h0M1822.6 803.7h0M1822.6 808.3h0M1822.6 812.8h0M1827.2 808.3h0M1882.0 826.5h0M1886.5 835.6h0M1886.5 840.2h0M1886.5 844.7h0M1891.1 844.7h0M1895.6 840.2h0M1895.6 844.7h0M1900.2 840.2h0M1900.2 844.7h0M1904.8 840.2h0M1909.3 844.7h0"/></g><text x="13.50" y="70.10" class="lt">A</text><text x="13.50" y="271.60" class="lt">C</text><text x="13.50" y="473.10" class="lt">E</text><text x="13.50" y="705.40" class="lt">G</text><text x="1028.20" y="70.00" class="lt">B</text><text x="1028.20" y="271.40" class="lt">D</text><text x="1028.20" y="473.30" class="lt">F</text><text x="1028.20" y="705.80" class="lt">H</text><text x="23.50" y="211.60" class="pc">5%</text><text x="23.50" y="413.10" class="pc">15%</text><text x="23.50" y="614.80" class="pc">20%</text><text x="1036.80" y="209.90" class="pc">5%</text><text x="1036.80" y="411.30" class="pc">15%</text><text x="1036.80" y="613.00" class="pc">20%</text><text x="271.90" y="30" class="ti" style="font-size:41.4px">FAST reconstructions</text><text x="1323.60" y="30" class="ti">Measured points</text><text x="316.50" y="667" class="ti">Full scan image</text><text x="1181.20" y="666.5" class="ti" style="font-size:40.8px">Measurements between 15-20%</text><rect x="813" y="709.8" width="92.5" height="6.1" fill="#fff"/><text x="819.5" y="700.5" class="sb">2 µm</text></svg></body></html>
